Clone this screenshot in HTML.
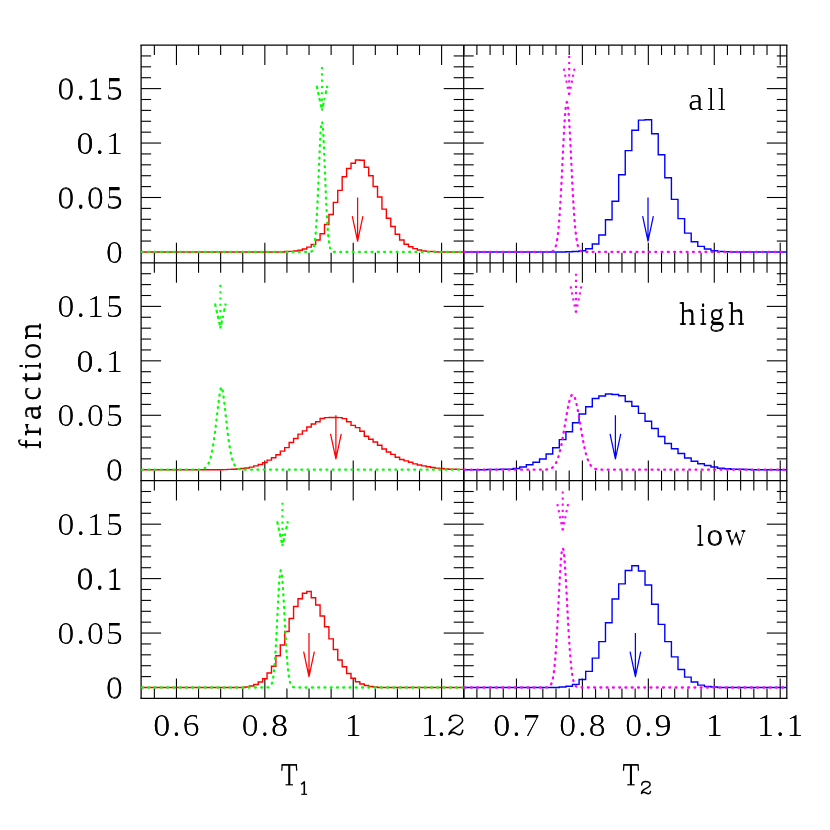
<!DOCTYPE html>
<html><head><meta charset="utf-8"><title>fraction vs T1, T2</title>
<style>
html,body{margin:0;padding:0;background:#fff;}
body{width:830px;height:830px;overflow:hidden;}
svg{display:block;}
text{font-family:"Liberation Serif",serif;fill:#000;}
g.t{opacity:0.999;}
</style></head><body>
<svg width="830" height="830" viewBox="0 0 830 830">
<rect x="0" y="0" width="830" height="830" fill="#fff"/>
<defs>
<clipPath id="c1"><text x="0.444" y="-0.15" font-size="32" text-anchor="end" letter-spacing="1.6">0.15</text><text x="0.444" y="0.15" font-size="32" text-anchor="end" letter-spacing="1.6">0.15</text></clipPath>
<clipPath id="c2"><text x="0.444" y="-0.15" font-size="32" text-anchor="end" letter-spacing="1.6">0.1</text><text x="0.444" y="0.15" font-size="32" text-anchor="end" letter-spacing="1.6">0.1</text></clipPath>
<clipPath id="c3"><text x="0.444" y="-0.15" font-size="32" text-anchor="end" letter-spacing="1.6">0.05</text><text x="0.444" y="0.15" font-size="32" text-anchor="end" letter-spacing="1.6">0.05</text></clipPath>
<clipPath id="c4"><text x="0.444" y="-0.15" font-size="32" text-anchor="end" letter-spacing="1.6">0</text><text x="0.444" y="0.15" font-size="32" text-anchor="end" letter-spacing="1.6">0</text></clipPath>
<clipPath id="c5"><text x="0.444" y="-0.15" font-size="32" text-anchor="end" letter-spacing="1.6">0.15</text><text x="0.444" y="0.15" font-size="32" text-anchor="end" letter-spacing="1.6">0.15</text></clipPath>
<clipPath id="c6"><text x="0.444" y="-0.15" font-size="32" text-anchor="end" letter-spacing="1.6">0.1</text><text x="0.444" y="0.15" font-size="32" text-anchor="end" letter-spacing="1.6">0.1</text></clipPath>
<clipPath id="c7"><text x="0.444" y="-0.15" font-size="32" text-anchor="end" letter-spacing="1.6">0.05</text><text x="0.444" y="0.15" font-size="32" text-anchor="end" letter-spacing="1.6">0.05</text></clipPath>
<clipPath id="c8"><text x="0.444" y="-0.15" font-size="32" text-anchor="end" letter-spacing="1.6">0</text><text x="0.444" y="0.15" font-size="32" text-anchor="end" letter-spacing="1.6">0</text></clipPath>
<clipPath id="c9"><text x="0.444" y="-0.15" font-size="32" text-anchor="end" letter-spacing="1.6">0.15</text><text x="0.444" y="0.15" font-size="32" text-anchor="end" letter-spacing="1.6">0.15</text></clipPath>
<clipPath id="c10"><text x="0.444" y="-0.15" font-size="32" text-anchor="end" letter-spacing="1.6">0.1</text><text x="0.444" y="0.15" font-size="32" text-anchor="end" letter-spacing="1.6">0.1</text></clipPath>
<clipPath id="c11"><text x="0.444" y="-0.15" font-size="32" text-anchor="end" letter-spacing="1.6">0.05</text><text x="0.444" y="0.15" font-size="32" text-anchor="end" letter-spacing="1.6">0.05</text></clipPath>
<clipPath id="c12"><text x="0.444" y="-0.15" font-size="32" text-anchor="end" letter-spacing="1.6">0</text><text x="0.444" y="0.15" font-size="32" text-anchor="end" letter-spacing="1.6">0</text></clipPath>
<clipPath id="c13"><text x="0.444" y="-0.15" font-size="32" text-anchor="middle" letter-spacing="1.6">0.6</text><text x="0.444" y="0.15" font-size="32" text-anchor="middle" letter-spacing="1.6">0.6</text></clipPath>
<clipPath id="c14"><text x="0.444" y="-0.15" font-size="32" text-anchor="middle" letter-spacing="1.6">0.8</text><text x="0.444" y="0.15" font-size="32" text-anchor="middle" letter-spacing="1.6">0.8</text></clipPath>
<clipPath id="c15"><text x="0.444" y="-0.15" font-size="32" text-anchor="middle" letter-spacing="1.6">1</text><text x="0.444" y="0.15" font-size="32" text-anchor="middle" letter-spacing="1.6">1</text></clipPath>
<clipPath id="c16"><text x="0.444" y="-0.15" font-size="32" text-anchor="start" letter-spacing="-0.9">1.</text><text x="0.444" y="0.15" font-size="32" text-anchor="start" letter-spacing="-0.9">1.</text></clipPath>
<clipPath id="c17"><text x="0.444" y="-0.15" font-size="32" text-anchor="middle" letter-spacing="1.6">0.7</text><text x="0.444" y="0.15" font-size="32" text-anchor="middle" letter-spacing="1.6">0.7</text></clipPath>
<clipPath id="c18"><text x="0.444" y="-0.15" font-size="32" text-anchor="middle" letter-spacing="1.6">0.8</text><text x="0.444" y="0.15" font-size="32" text-anchor="middle" letter-spacing="1.6">0.8</text></clipPath>
<clipPath id="c19"><text x="0.444" y="-0.15" font-size="32" text-anchor="middle" letter-spacing="1.6">0.9</text><text x="0.444" y="0.15" font-size="32" text-anchor="middle" letter-spacing="1.6">0.9</text></clipPath>
<clipPath id="c20"><text x="0.444" y="-0.15" font-size="32" text-anchor="middle" letter-spacing="1.6">1</text><text x="0.444" y="0.15" font-size="32" text-anchor="middle" letter-spacing="1.6">1</text></clipPath>
<clipPath id="c21"><text x="0.444" y="-0.15" font-size="32" text-anchor="middle" letter-spacing="1.6">1.1</text><text x="0.444" y="0.15" font-size="32" text-anchor="middle" letter-spacing="1.6">1.1</text></clipPath>
<clipPath id="c22"><text x="0.443" y="-0.15" font-size="32">a</text><text x="0.443" y="0.15" font-size="32">a</text></clipPath>
<clipPath id="c23"><text x="0.505" y="-0.15" font-size="32">l</text><text x="0.505" y="0.15" font-size="32">l</text></clipPath>
<clipPath id="c24"><text x="0.505" y="-0.15" font-size="32">l</text><text x="0.505" y="0.15" font-size="32">l</text></clipPath>
<clipPath id="c25"><text x="0.441" y="-0.15" font-size="32">h</text><text x="0.441" y="0.15" font-size="32">h</text></clipPath>
<clipPath id="c26"><text x="0.549" y="-0.15" font-size="32">i</text><text x="0.549" y="0.15" font-size="32">i</text></clipPath>
<clipPath id="c27"><text x="0.483" y="-0.15" font-size="32">g</text><text x="0.483" y="0.15" font-size="32">g</text></clipPath>
<clipPath id="c28"><text x="0.447" y="-0.15" font-size="32">h</text><text x="0.447" y="0.15" font-size="32">h</text></clipPath>
<clipPath id="c29"><text x="0.519" y="-0.15" font-size="32">l</text><text x="0.519" y="0.15" font-size="32">l</text></clipPath>
<clipPath id="c30"><text x="0.445" y="-0.15" font-size="32">o</text><text x="0.445" y="0.15" font-size="32">o</text></clipPath>
<clipPath id="c31"><text x="0.533" y="-0.15" font-size="32">w</text><text x="0.533" y="0.15" font-size="32">w</text></clipPath>
<clipPath id="c32"><text x="0.482" y="-0.15" font-size="32">f</text><text x="0.482" y="0.15" font-size="32">f</text></clipPath>
<clipPath id="c33"><text x="0.375" y="-0.15" font-size="32">r</text><text x="0.375" y="0.15" font-size="32">r</text></clipPath>
<clipPath id="c34"><text x="0.424" y="-0.15" font-size="32">a</text><text x="0.424" y="0.15" font-size="32">a</text></clipPath>
<clipPath id="c35"><text x="0.462" y="-0.15" font-size="32">c</text><text x="0.462" y="0.15" font-size="32">c</text></clipPath>
<clipPath id="c36"><text x="0.382" y="-0.15" font-size="32">t</text><text x="0.382" y="0.15" font-size="32">t</text></clipPath>
<clipPath id="c37"><text x="0.557" y="-0.15" font-size="32">i</text><text x="0.557" y="0.15" font-size="32">i</text></clipPath>
<clipPath id="c38"><text x="0.454" y="-0.15" font-size="32">o</text><text x="0.454" y="0.15" font-size="32">o</text></clipPath>
<clipPath id="c39"><text x="0.430" y="-0.15" font-size="32">n</text><text x="0.430" y="0.15" font-size="32">n</text></clipPath>
</defs>
<line x1="154.36" y1="45.05" x2="154.36" y2="55.05" stroke="#000" stroke-width="1.1" />
<line x1="154.36" y1="262.83" x2="154.36" y2="252.83" stroke="#000" stroke-width="1.1" />
<line x1="176.45" y1="45.05" x2="176.45" y2="65.05" stroke="#000" stroke-width="1.1" />
<line x1="176.45" y1="262.83" x2="176.45" y2="242.83" stroke="#000" stroke-width="1.1" />
<line x1="198.55" y1="45.05" x2="198.55" y2="55.05" stroke="#000" stroke-width="1.1" />
<line x1="198.55" y1="262.83" x2="198.55" y2="252.83" stroke="#000" stroke-width="1.1" />
<line x1="220.65" y1="45.05" x2="220.65" y2="55.05" stroke="#000" stroke-width="1.1" />
<line x1="220.65" y1="262.83" x2="220.65" y2="252.83" stroke="#000" stroke-width="1.1" />
<line x1="242.74" y1="45.05" x2="242.74" y2="55.05" stroke="#000" stroke-width="1.1" />
<line x1="242.74" y1="262.83" x2="242.74" y2="252.83" stroke="#000" stroke-width="1.1" />
<line x1="264.84" y1="45.05" x2="264.84" y2="65.05" stroke="#000" stroke-width="1.1" />
<line x1="264.84" y1="262.83" x2="264.84" y2="242.83" stroke="#000" stroke-width="1.1" />
<line x1="286.93" y1="45.05" x2="286.93" y2="55.05" stroke="#000" stroke-width="1.1" />
<line x1="286.93" y1="262.83" x2="286.93" y2="252.83" stroke="#000" stroke-width="1.1" />
<line x1="309.03" y1="45.05" x2="309.03" y2="55.05" stroke="#000" stroke-width="1.1" />
<line x1="309.03" y1="262.83" x2="309.03" y2="252.83" stroke="#000" stroke-width="1.1" />
<line x1="331.12" y1="45.05" x2="331.12" y2="55.05" stroke="#000" stroke-width="1.1" />
<line x1="331.12" y1="262.83" x2="331.12" y2="252.83" stroke="#000" stroke-width="1.1" />
<line x1="353.22" y1="45.05" x2="353.22" y2="65.05" stroke="#000" stroke-width="1.1" />
<line x1="353.22" y1="262.83" x2="353.22" y2="242.83" stroke="#000" stroke-width="1.1" />
<line x1="375.32" y1="45.05" x2="375.32" y2="55.05" stroke="#000" stroke-width="1.1" />
<line x1="375.32" y1="262.83" x2="375.32" y2="252.83" stroke="#000" stroke-width="1.1" />
<line x1="397.41" y1="45.05" x2="397.41" y2="55.05" stroke="#000" stroke-width="1.1" />
<line x1="397.41" y1="262.83" x2="397.41" y2="252.83" stroke="#000" stroke-width="1.1" />
<line x1="419.51" y1="45.05" x2="419.51" y2="55.05" stroke="#000" stroke-width="1.1" />
<line x1="419.51" y1="262.83" x2="419.51" y2="252.83" stroke="#000" stroke-width="1.1" />
<line x1="441.60" y1="45.05" x2="441.60" y2="65.05" stroke="#000" stroke-width="1.1" />
<line x1="441.60" y1="262.83" x2="441.60" y2="242.83" stroke="#000" stroke-width="1.1" />
<line x1="463.70" y1="45.05" x2="463.70" y2="55.05" stroke="#000" stroke-width="1.1" />
<line x1="463.70" y1="262.83" x2="463.70" y2="252.83" stroke="#000" stroke-width="1.1" />
<line x1="141.10" y1="241.05" x2="151.10" y2="241.05" stroke="#000" stroke-width="1.1" />
<line x1="463.70" y1="241.05" x2="453.70" y2="241.05" stroke="#000" stroke-width="1.1" />
<line x1="141.10" y1="230.16" x2="151.10" y2="230.16" stroke="#000" stroke-width="1.1" />
<line x1="463.70" y1="230.16" x2="453.70" y2="230.16" stroke="#000" stroke-width="1.1" />
<line x1="141.10" y1="219.27" x2="151.10" y2="219.27" stroke="#000" stroke-width="1.1" />
<line x1="463.70" y1="219.27" x2="453.70" y2="219.27" stroke="#000" stroke-width="1.1" />
<line x1="141.10" y1="208.38" x2="151.10" y2="208.38" stroke="#000" stroke-width="1.1" />
<line x1="463.70" y1="208.38" x2="453.70" y2="208.38" stroke="#000" stroke-width="1.1" />
<line x1="141.10" y1="197.50" x2="161.10" y2="197.50" stroke="#000" stroke-width="1.1" />
<line x1="463.70" y1="197.50" x2="443.70" y2="197.50" stroke="#000" stroke-width="1.1" />
<line x1="141.10" y1="186.61" x2="151.10" y2="186.61" stroke="#000" stroke-width="1.1" />
<line x1="463.70" y1="186.61" x2="453.70" y2="186.61" stroke="#000" stroke-width="1.1" />
<line x1="141.10" y1="175.72" x2="151.10" y2="175.72" stroke="#000" stroke-width="1.1" />
<line x1="463.70" y1="175.72" x2="453.70" y2="175.72" stroke="#000" stroke-width="1.1" />
<line x1="141.10" y1="164.83" x2="151.10" y2="164.83" stroke="#000" stroke-width="1.1" />
<line x1="463.70" y1="164.83" x2="453.70" y2="164.83" stroke="#000" stroke-width="1.1" />
<line x1="141.10" y1="153.94" x2="151.10" y2="153.94" stroke="#000" stroke-width="1.1" />
<line x1="463.70" y1="153.94" x2="453.70" y2="153.94" stroke="#000" stroke-width="1.1" />
<line x1="141.10" y1="143.05" x2="161.10" y2="143.05" stroke="#000" stroke-width="1.1" />
<line x1="463.70" y1="143.05" x2="443.70" y2="143.05" stroke="#000" stroke-width="1.1" />
<line x1="141.10" y1="132.16" x2="151.10" y2="132.16" stroke="#000" stroke-width="1.1" />
<line x1="463.70" y1="132.16" x2="453.70" y2="132.16" stroke="#000" stroke-width="1.1" />
<line x1="141.10" y1="121.27" x2="151.10" y2="121.27" stroke="#000" stroke-width="1.1" />
<line x1="463.70" y1="121.27" x2="453.70" y2="121.27" stroke="#000" stroke-width="1.1" />
<line x1="141.10" y1="110.38" x2="151.10" y2="110.38" stroke="#000" stroke-width="1.1" />
<line x1="463.70" y1="110.38" x2="453.70" y2="110.38" stroke="#000" stroke-width="1.1" />
<line x1="141.10" y1="99.49" x2="151.10" y2="99.49" stroke="#000" stroke-width="1.1" />
<line x1="463.70" y1="99.49" x2="453.70" y2="99.49" stroke="#000" stroke-width="1.1" />
<line x1="141.10" y1="88.61" x2="161.10" y2="88.61" stroke="#000" stroke-width="1.1" />
<line x1="463.70" y1="88.61" x2="443.70" y2="88.61" stroke="#000" stroke-width="1.1" />
<line x1="141.10" y1="77.72" x2="151.10" y2="77.72" stroke="#000" stroke-width="1.1" />
<line x1="463.70" y1="77.72" x2="453.70" y2="77.72" stroke="#000" stroke-width="1.1" />
<line x1="141.10" y1="66.83" x2="151.10" y2="66.83" stroke="#000" stroke-width="1.1" />
<line x1="463.70" y1="66.83" x2="453.70" y2="66.83" stroke="#000" stroke-width="1.1" />
<line x1="141.10" y1="55.94" x2="151.10" y2="55.94" stroke="#000" stroke-width="1.1" />
<line x1="463.70" y1="55.94" x2="453.70" y2="55.94" stroke="#000" stroke-width="1.1" />
<line x1="463.70" y1="45.05" x2="463.70" y2="55.05" stroke="#000" stroke-width="1.1" />
<line x1="463.70" y1="262.83" x2="463.70" y2="252.83" stroke="#000" stroke-width="1.1" />
<line x1="476.89" y1="45.05" x2="476.89" y2="55.05" stroke="#000" stroke-width="1.1" />
<line x1="476.89" y1="262.83" x2="476.89" y2="252.83" stroke="#000" stroke-width="1.1" />
<line x1="490.08" y1="45.05" x2="490.08" y2="55.05" stroke="#000" stroke-width="1.1" />
<line x1="490.08" y1="262.83" x2="490.08" y2="252.83" stroke="#000" stroke-width="1.1" />
<line x1="503.26" y1="45.05" x2="503.26" y2="55.05" stroke="#000" stroke-width="1.1" />
<line x1="503.26" y1="262.83" x2="503.26" y2="252.83" stroke="#000" stroke-width="1.1" />
<line x1="516.45" y1="45.05" x2="516.45" y2="65.05" stroke="#000" stroke-width="1.1" />
<line x1="516.45" y1="262.83" x2="516.45" y2="242.83" stroke="#000" stroke-width="1.1" />
<line x1="529.64" y1="45.05" x2="529.64" y2="55.05" stroke="#000" stroke-width="1.1" />
<line x1="529.64" y1="262.83" x2="529.64" y2="252.83" stroke="#000" stroke-width="1.1" />
<line x1="542.83" y1="45.05" x2="542.83" y2="55.05" stroke="#000" stroke-width="1.1" />
<line x1="542.83" y1="262.83" x2="542.83" y2="252.83" stroke="#000" stroke-width="1.1" />
<line x1="556.01" y1="45.05" x2="556.01" y2="55.05" stroke="#000" stroke-width="1.1" />
<line x1="556.01" y1="262.83" x2="556.01" y2="252.83" stroke="#000" stroke-width="1.1" />
<line x1="569.20" y1="45.05" x2="569.20" y2="55.05" stroke="#000" stroke-width="1.1" />
<line x1="569.20" y1="262.83" x2="569.20" y2="252.83" stroke="#000" stroke-width="1.1" />
<line x1="582.39" y1="45.05" x2="582.39" y2="65.05" stroke="#000" stroke-width="1.1" />
<line x1="582.39" y1="262.83" x2="582.39" y2="242.83" stroke="#000" stroke-width="1.1" />
<line x1="595.58" y1="45.05" x2="595.58" y2="55.05" stroke="#000" stroke-width="1.1" />
<line x1="595.58" y1="262.83" x2="595.58" y2="252.83" stroke="#000" stroke-width="1.1" />
<line x1="608.77" y1="45.05" x2="608.77" y2="55.05" stroke="#000" stroke-width="1.1" />
<line x1="608.77" y1="262.83" x2="608.77" y2="252.83" stroke="#000" stroke-width="1.1" />
<line x1="621.95" y1="45.05" x2="621.95" y2="55.05" stroke="#000" stroke-width="1.1" />
<line x1="621.95" y1="262.83" x2="621.95" y2="252.83" stroke="#000" stroke-width="1.1" />
<line x1="635.14" y1="45.05" x2="635.14" y2="55.05" stroke="#000" stroke-width="1.1" />
<line x1="635.14" y1="262.83" x2="635.14" y2="252.83" stroke="#000" stroke-width="1.1" />
<line x1="648.33" y1="45.05" x2="648.33" y2="65.05" stroke="#000" stroke-width="1.1" />
<line x1="648.33" y1="262.83" x2="648.33" y2="242.83" stroke="#000" stroke-width="1.1" />
<line x1="661.52" y1="45.05" x2="661.52" y2="55.05" stroke="#000" stroke-width="1.1" />
<line x1="661.52" y1="262.83" x2="661.52" y2="252.83" stroke="#000" stroke-width="1.1" />
<line x1="674.70" y1="45.05" x2="674.70" y2="55.05" stroke="#000" stroke-width="1.1" />
<line x1="674.70" y1="262.83" x2="674.70" y2="252.83" stroke="#000" stroke-width="1.1" />
<line x1="687.89" y1="45.05" x2="687.89" y2="55.05" stroke="#000" stroke-width="1.1" />
<line x1="687.89" y1="262.83" x2="687.89" y2="252.83" stroke="#000" stroke-width="1.1" />
<line x1="701.08" y1="45.05" x2="701.08" y2="55.05" stroke="#000" stroke-width="1.1" />
<line x1="701.08" y1="262.83" x2="701.08" y2="252.83" stroke="#000" stroke-width="1.1" />
<line x1="714.27" y1="45.05" x2="714.27" y2="65.05" stroke="#000" stroke-width="1.1" />
<line x1="714.27" y1="262.83" x2="714.27" y2="242.83" stroke="#000" stroke-width="1.1" />
<line x1="727.46" y1="45.05" x2="727.46" y2="55.05" stroke="#000" stroke-width="1.1" />
<line x1="727.46" y1="262.83" x2="727.46" y2="252.83" stroke="#000" stroke-width="1.1" />
<line x1="740.64" y1="45.05" x2="740.64" y2="55.05" stroke="#000" stroke-width="1.1" />
<line x1="740.64" y1="262.83" x2="740.64" y2="252.83" stroke="#000" stroke-width="1.1" />
<line x1="753.83" y1="45.05" x2="753.83" y2="55.05" stroke="#000" stroke-width="1.1" />
<line x1="753.83" y1="262.83" x2="753.83" y2="252.83" stroke="#000" stroke-width="1.1" />
<line x1="767.02" y1="45.05" x2="767.02" y2="55.05" stroke="#000" stroke-width="1.1" />
<line x1="767.02" y1="262.83" x2="767.02" y2="252.83" stroke="#000" stroke-width="1.1" />
<line x1="780.21" y1="45.05" x2="780.21" y2="65.05" stroke="#000" stroke-width="1.1" />
<line x1="780.21" y1="262.83" x2="780.21" y2="242.83" stroke="#000" stroke-width="1.1" />
<line x1="463.70" y1="241.05" x2="473.70" y2="241.05" stroke="#000" stroke-width="1.1" />
<line x1="786.80" y1="241.05" x2="776.80" y2="241.05" stroke="#000" stroke-width="1.1" />
<line x1="463.70" y1="230.16" x2="473.70" y2="230.16" stroke="#000" stroke-width="1.1" />
<line x1="786.80" y1="230.16" x2="776.80" y2="230.16" stroke="#000" stroke-width="1.1" />
<line x1="463.70" y1="219.27" x2="473.70" y2="219.27" stroke="#000" stroke-width="1.1" />
<line x1="786.80" y1="219.27" x2="776.80" y2="219.27" stroke="#000" stroke-width="1.1" />
<line x1="463.70" y1="208.38" x2="473.70" y2="208.38" stroke="#000" stroke-width="1.1" />
<line x1="786.80" y1="208.38" x2="776.80" y2="208.38" stroke="#000" stroke-width="1.1" />
<line x1="463.70" y1="197.50" x2="483.70" y2="197.50" stroke="#000" stroke-width="1.1" />
<line x1="786.80" y1="197.50" x2="766.80" y2="197.50" stroke="#000" stroke-width="1.1" />
<line x1="463.70" y1="186.61" x2="473.70" y2="186.61" stroke="#000" stroke-width="1.1" />
<line x1="786.80" y1="186.61" x2="776.80" y2="186.61" stroke="#000" stroke-width="1.1" />
<line x1="463.70" y1="175.72" x2="473.70" y2="175.72" stroke="#000" stroke-width="1.1" />
<line x1="786.80" y1="175.72" x2="776.80" y2="175.72" stroke="#000" stroke-width="1.1" />
<line x1="463.70" y1="164.83" x2="473.70" y2="164.83" stroke="#000" stroke-width="1.1" />
<line x1="786.80" y1="164.83" x2="776.80" y2="164.83" stroke="#000" stroke-width="1.1" />
<line x1="463.70" y1="153.94" x2="473.70" y2="153.94" stroke="#000" stroke-width="1.1" />
<line x1="786.80" y1="153.94" x2="776.80" y2="153.94" stroke="#000" stroke-width="1.1" />
<line x1="463.70" y1="143.05" x2="483.70" y2="143.05" stroke="#000" stroke-width="1.1" />
<line x1="786.80" y1="143.05" x2="766.80" y2="143.05" stroke="#000" stroke-width="1.1" />
<line x1="463.70" y1="132.16" x2="473.70" y2="132.16" stroke="#000" stroke-width="1.1" />
<line x1="786.80" y1="132.16" x2="776.80" y2="132.16" stroke="#000" stroke-width="1.1" />
<line x1="463.70" y1="121.27" x2="473.70" y2="121.27" stroke="#000" stroke-width="1.1" />
<line x1="786.80" y1="121.27" x2="776.80" y2="121.27" stroke="#000" stroke-width="1.1" />
<line x1="463.70" y1="110.38" x2="473.70" y2="110.38" stroke="#000" stroke-width="1.1" />
<line x1="786.80" y1="110.38" x2="776.80" y2="110.38" stroke="#000" stroke-width="1.1" />
<line x1="463.70" y1="99.49" x2="473.70" y2="99.49" stroke="#000" stroke-width="1.1" />
<line x1="786.80" y1="99.49" x2="776.80" y2="99.49" stroke="#000" stroke-width="1.1" />
<line x1="463.70" y1="88.61" x2="483.70" y2="88.61" stroke="#000" stroke-width="1.1" />
<line x1="786.80" y1="88.61" x2="766.80" y2="88.61" stroke="#000" stroke-width="1.1" />
<line x1="463.70" y1="77.72" x2="473.70" y2="77.72" stroke="#000" stroke-width="1.1" />
<line x1="786.80" y1="77.72" x2="776.80" y2="77.72" stroke="#000" stroke-width="1.1" />
<line x1="463.70" y1="66.83" x2="473.70" y2="66.83" stroke="#000" stroke-width="1.1" />
<line x1="786.80" y1="66.83" x2="776.80" y2="66.83" stroke="#000" stroke-width="1.1" />
<line x1="463.70" y1="55.94" x2="473.70" y2="55.94" stroke="#000" stroke-width="1.1" />
<line x1="786.80" y1="55.94" x2="776.80" y2="55.94" stroke="#000" stroke-width="1.1" />
<line x1="154.36" y1="262.83" x2="154.36" y2="272.83" stroke="#000" stroke-width="1.1" />
<line x1="154.36" y1="480.61" x2="154.36" y2="470.61" stroke="#000" stroke-width="1.1" />
<line x1="176.45" y1="262.83" x2="176.45" y2="282.83" stroke="#000" stroke-width="1.1" />
<line x1="176.45" y1="480.61" x2="176.45" y2="460.61" stroke="#000" stroke-width="1.1" />
<line x1="198.55" y1="262.83" x2="198.55" y2="272.83" stroke="#000" stroke-width="1.1" />
<line x1="198.55" y1="480.61" x2="198.55" y2="470.61" stroke="#000" stroke-width="1.1" />
<line x1="220.65" y1="262.83" x2="220.65" y2="272.83" stroke="#000" stroke-width="1.1" />
<line x1="220.65" y1="480.61" x2="220.65" y2="470.61" stroke="#000" stroke-width="1.1" />
<line x1="242.74" y1="262.83" x2="242.74" y2="272.83" stroke="#000" stroke-width="1.1" />
<line x1="242.74" y1="480.61" x2="242.74" y2="470.61" stroke="#000" stroke-width="1.1" />
<line x1="264.84" y1="262.83" x2="264.84" y2="282.83" stroke="#000" stroke-width="1.1" />
<line x1="264.84" y1="480.61" x2="264.84" y2="460.61" stroke="#000" stroke-width="1.1" />
<line x1="286.93" y1="262.83" x2="286.93" y2="272.83" stroke="#000" stroke-width="1.1" />
<line x1="286.93" y1="480.61" x2="286.93" y2="470.61" stroke="#000" stroke-width="1.1" />
<line x1="309.03" y1="262.83" x2="309.03" y2="272.83" stroke="#000" stroke-width="1.1" />
<line x1="309.03" y1="480.61" x2="309.03" y2="470.61" stroke="#000" stroke-width="1.1" />
<line x1="331.12" y1="262.83" x2="331.12" y2="272.83" stroke="#000" stroke-width="1.1" />
<line x1="331.12" y1="480.61" x2="331.12" y2="470.61" stroke="#000" stroke-width="1.1" />
<line x1="353.22" y1="262.83" x2="353.22" y2="282.83" stroke="#000" stroke-width="1.1" />
<line x1="353.22" y1="480.61" x2="353.22" y2="460.61" stroke="#000" stroke-width="1.1" />
<line x1="375.32" y1="262.83" x2="375.32" y2="272.83" stroke="#000" stroke-width="1.1" />
<line x1="375.32" y1="480.61" x2="375.32" y2="470.61" stroke="#000" stroke-width="1.1" />
<line x1="397.41" y1="262.83" x2="397.41" y2="272.83" stroke="#000" stroke-width="1.1" />
<line x1="397.41" y1="480.61" x2="397.41" y2="470.61" stroke="#000" stroke-width="1.1" />
<line x1="419.51" y1="262.83" x2="419.51" y2="272.83" stroke="#000" stroke-width="1.1" />
<line x1="419.51" y1="480.61" x2="419.51" y2="470.61" stroke="#000" stroke-width="1.1" />
<line x1="441.60" y1="262.83" x2="441.60" y2="282.83" stroke="#000" stroke-width="1.1" />
<line x1="441.60" y1="480.61" x2="441.60" y2="460.61" stroke="#000" stroke-width="1.1" />
<line x1="463.70" y1="262.83" x2="463.70" y2="272.83" stroke="#000" stroke-width="1.1" />
<line x1="463.70" y1="480.61" x2="463.70" y2="470.61" stroke="#000" stroke-width="1.1" />
<line x1="141.10" y1="458.83" x2="151.10" y2="458.83" stroke="#000" stroke-width="1.1" />
<line x1="463.70" y1="458.83" x2="453.70" y2="458.83" stroke="#000" stroke-width="1.1" />
<line x1="141.10" y1="447.94" x2="151.10" y2="447.94" stroke="#000" stroke-width="1.1" />
<line x1="463.70" y1="447.94" x2="453.70" y2="447.94" stroke="#000" stroke-width="1.1" />
<line x1="141.10" y1="437.05" x2="151.10" y2="437.05" stroke="#000" stroke-width="1.1" />
<line x1="463.70" y1="437.05" x2="453.70" y2="437.05" stroke="#000" stroke-width="1.1" />
<line x1="141.10" y1="426.16" x2="151.10" y2="426.16" stroke="#000" stroke-width="1.1" />
<line x1="463.70" y1="426.16" x2="453.70" y2="426.16" stroke="#000" stroke-width="1.1" />
<line x1="141.10" y1="415.28" x2="161.10" y2="415.28" stroke="#000" stroke-width="1.1" />
<line x1="463.70" y1="415.28" x2="443.70" y2="415.28" stroke="#000" stroke-width="1.1" />
<line x1="141.10" y1="404.39" x2="151.10" y2="404.39" stroke="#000" stroke-width="1.1" />
<line x1="463.70" y1="404.39" x2="453.70" y2="404.39" stroke="#000" stroke-width="1.1" />
<line x1="141.10" y1="393.50" x2="151.10" y2="393.50" stroke="#000" stroke-width="1.1" />
<line x1="463.70" y1="393.50" x2="453.70" y2="393.50" stroke="#000" stroke-width="1.1" />
<line x1="141.10" y1="382.61" x2="151.10" y2="382.61" stroke="#000" stroke-width="1.1" />
<line x1="463.70" y1="382.61" x2="453.70" y2="382.61" stroke="#000" stroke-width="1.1" />
<line x1="141.10" y1="371.72" x2="151.10" y2="371.72" stroke="#000" stroke-width="1.1" />
<line x1="463.70" y1="371.72" x2="453.70" y2="371.72" stroke="#000" stroke-width="1.1" />
<line x1="141.10" y1="360.83" x2="161.10" y2="360.83" stroke="#000" stroke-width="1.1" />
<line x1="463.70" y1="360.83" x2="443.70" y2="360.83" stroke="#000" stroke-width="1.1" />
<line x1="141.10" y1="349.94" x2="151.10" y2="349.94" stroke="#000" stroke-width="1.1" />
<line x1="463.70" y1="349.94" x2="453.70" y2="349.94" stroke="#000" stroke-width="1.1" />
<line x1="141.10" y1="339.05" x2="151.10" y2="339.05" stroke="#000" stroke-width="1.1" />
<line x1="463.70" y1="339.05" x2="453.70" y2="339.05" stroke="#000" stroke-width="1.1" />
<line x1="141.10" y1="328.16" x2="151.10" y2="328.16" stroke="#000" stroke-width="1.1" />
<line x1="463.70" y1="328.16" x2="453.70" y2="328.16" stroke="#000" stroke-width="1.1" />
<line x1="141.10" y1="317.27" x2="151.10" y2="317.27" stroke="#000" stroke-width="1.1" />
<line x1="463.70" y1="317.27" x2="453.70" y2="317.27" stroke="#000" stroke-width="1.1" />
<line x1="141.10" y1="306.39" x2="161.10" y2="306.39" stroke="#000" stroke-width="1.1" />
<line x1="463.70" y1="306.39" x2="443.70" y2="306.39" stroke="#000" stroke-width="1.1" />
<line x1="141.10" y1="295.50" x2="151.10" y2="295.50" stroke="#000" stroke-width="1.1" />
<line x1="463.70" y1="295.50" x2="453.70" y2="295.50" stroke="#000" stroke-width="1.1" />
<line x1="141.10" y1="284.61" x2="151.10" y2="284.61" stroke="#000" stroke-width="1.1" />
<line x1="463.70" y1="284.61" x2="453.70" y2="284.61" stroke="#000" stroke-width="1.1" />
<line x1="141.10" y1="273.72" x2="151.10" y2="273.72" stroke="#000" stroke-width="1.1" />
<line x1="463.70" y1="273.72" x2="453.70" y2="273.72" stroke="#000" stroke-width="1.1" />
<line x1="463.70" y1="262.83" x2="463.70" y2="272.83" stroke="#000" stroke-width="1.1" />
<line x1="463.70" y1="480.61" x2="463.70" y2="470.61" stroke="#000" stroke-width="1.1" />
<line x1="476.89" y1="262.83" x2="476.89" y2="272.83" stroke="#000" stroke-width="1.1" />
<line x1="476.89" y1="480.61" x2="476.89" y2="470.61" stroke="#000" stroke-width="1.1" />
<line x1="490.08" y1="262.83" x2="490.08" y2="272.83" stroke="#000" stroke-width="1.1" />
<line x1="490.08" y1="480.61" x2="490.08" y2="470.61" stroke="#000" stroke-width="1.1" />
<line x1="503.26" y1="262.83" x2="503.26" y2="272.83" stroke="#000" stroke-width="1.1" />
<line x1="503.26" y1="480.61" x2="503.26" y2="470.61" stroke="#000" stroke-width="1.1" />
<line x1="516.45" y1="262.83" x2="516.45" y2="282.83" stroke="#000" stroke-width="1.1" />
<line x1="516.45" y1="480.61" x2="516.45" y2="460.61" stroke="#000" stroke-width="1.1" />
<line x1="529.64" y1="262.83" x2="529.64" y2="272.83" stroke="#000" stroke-width="1.1" />
<line x1="529.64" y1="480.61" x2="529.64" y2="470.61" stroke="#000" stroke-width="1.1" />
<line x1="542.83" y1="262.83" x2="542.83" y2="272.83" stroke="#000" stroke-width="1.1" />
<line x1="542.83" y1="480.61" x2="542.83" y2="470.61" stroke="#000" stroke-width="1.1" />
<line x1="556.01" y1="262.83" x2="556.01" y2="272.83" stroke="#000" stroke-width="1.1" />
<line x1="556.01" y1="480.61" x2="556.01" y2="470.61" stroke="#000" stroke-width="1.1" />
<line x1="569.20" y1="262.83" x2="569.20" y2="272.83" stroke="#000" stroke-width="1.1" />
<line x1="569.20" y1="480.61" x2="569.20" y2="470.61" stroke="#000" stroke-width="1.1" />
<line x1="582.39" y1="262.83" x2="582.39" y2="282.83" stroke="#000" stroke-width="1.1" />
<line x1="582.39" y1="480.61" x2="582.39" y2="460.61" stroke="#000" stroke-width="1.1" />
<line x1="595.58" y1="262.83" x2="595.58" y2="272.83" stroke="#000" stroke-width="1.1" />
<line x1="595.58" y1="480.61" x2="595.58" y2="470.61" stroke="#000" stroke-width="1.1" />
<line x1="608.77" y1="262.83" x2="608.77" y2="272.83" stroke="#000" stroke-width="1.1" />
<line x1="608.77" y1="480.61" x2="608.77" y2="470.61" stroke="#000" stroke-width="1.1" />
<line x1="621.95" y1="262.83" x2="621.95" y2="272.83" stroke="#000" stroke-width="1.1" />
<line x1="621.95" y1="480.61" x2="621.95" y2="470.61" stroke="#000" stroke-width="1.1" />
<line x1="635.14" y1="262.83" x2="635.14" y2="272.83" stroke="#000" stroke-width="1.1" />
<line x1="635.14" y1="480.61" x2="635.14" y2="470.61" stroke="#000" stroke-width="1.1" />
<line x1="648.33" y1="262.83" x2="648.33" y2="282.83" stroke="#000" stroke-width="1.1" />
<line x1="648.33" y1="480.61" x2="648.33" y2="460.61" stroke="#000" stroke-width="1.1" />
<line x1="661.52" y1="262.83" x2="661.52" y2="272.83" stroke="#000" stroke-width="1.1" />
<line x1="661.52" y1="480.61" x2="661.52" y2="470.61" stroke="#000" stroke-width="1.1" />
<line x1="674.70" y1="262.83" x2="674.70" y2="272.83" stroke="#000" stroke-width="1.1" />
<line x1="674.70" y1="480.61" x2="674.70" y2="470.61" stroke="#000" stroke-width="1.1" />
<line x1="687.89" y1="262.83" x2="687.89" y2="272.83" stroke="#000" stroke-width="1.1" />
<line x1="687.89" y1="480.61" x2="687.89" y2="470.61" stroke="#000" stroke-width="1.1" />
<line x1="701.08" y1="262.83" x2="701.08" y2="272.83" stroke="#000" stroke-width="1.1" />
<line x1="701.08" y1="480.61" x2="701.08" y2="470.61" stroke="#000" stroke-width="1.1" />
<line x1="714.27" y1="262.83" x2="714.27" y2="282.83" stroke="#000" stroke-width="1.1" />
<line x1="714.27" y1="480.61" x2="714.27" y2="460.61" stroke="#000" stroke-width="1.1" />
<line x1="727.46" y1="262.83" x2="727.46" y2="272.83" stroke="#000" stroke-width="1.1" />
<line x1="727.46" y1="480.61" x2="727.46" y2="470.61" stroke="#000" stroke-width="1.1" />
<line x1="740.64" y1="262.83" x2="740.64" y2="272.83" stroke="#000" stroke-width="1.1" />
<line x1="740.64" y1="480.61" x2="740.64" y2="470.61" stroke="#000" stroke-width="1.1" />
<line x1="753.83" y1="262.83" x2="753.83" y2="272.83" stroke="#000" stroke-width="1.1" />
<line x1="753.83" y1="480.61" x2="753.83" y2="470.61" stroke="#000" stroke-width="1.1" />
<line x1="767.02" y1="262.83" x2="767.02" y2="272.83" stroke="#000" stroke-width="1.1" />
<line x1="767.02" y1="480.61" x2="767.02" y2="470.61" stroke="#000" stroke-width="1.1" />
<line x1="780.21" y1="262.83" x2="780.21" y2="282.83" stroke="#000" stroke-width="1.1" />
<line x1="780.21" y1="480.61" x2="780.21" y2="460.61" stroke="#000" stroke-width="1.1" />
<line x1="463.70" y1="458.83" x2="473.70" y2="458.83" stroke="#000" stroke-width="1.1" />
<line x1="786.80" y1="458.83" x2="776.80" y2="458.83" stroke="#000" stroke-width="1.1" />
<line x1="463.70" y1="447.94" x2="473.70" y2="447.94" stroke="#000" stroke-width="1.1" />
<line x1="786.80" y1="447.94" x2="776.80" y2="447.94" stroke="#000" stroke-width="1.1" />
<line x1="463.70" y1="437.05" x2="473.70" y2="437.05" stroke="#000" stroke-width="1.1" />
<line x1="786.80" y1="437.05" x2="776.80" y2="437.05" stroke="#000" stroke-width="1.1" />
<line x1="463.70" y1="426.16" x2="473.70" y2="426.16" stroke="#000" stroke-width="1.1" />
<line x1="786.80" y1="426.16" x2="776.80" y2="426.16" stroke="#000" stroke-width="1.1" />
<line x1="463.70" y1="415.28" x2="483.70" y2="415.28" stroke="#000" stroke-width="1.1" />
<line x1="786.80" y1="415.28" x2="766.80" y2="415.28" stroke="#000" stroke-width="1.1" />
<line x1="463.70" y1="404.39" x2="473.70" y2="404.39" stroke="#000" stroke-width="1.1" />
<line x1="786.80" y1="404.39" x2="776.80" y2="404.39" stroke="#000" stroke-width="1.1" />
<line x1="463.70" y1="393.50" x2="473.70" y2="393.50" stroke="#000" stroke-width="1.1" />
<line x1="786.80" y1="393.50" x2="776.80" y2="393.50" stroke="#000" stroke-width="1.1" />
<line x1="463.70" y1="382.61" x2="473.70" y2="382.61" stroke="#000" stroke-width="1.1" />
<line x1="786.80" y1="382.61" x2="776.80" y2="382.61" stroke="#000" stroke-width="1.1" />
<line x1="463.70" y1="371.72" x2="473.70" y2="371.72" stroke="#000" stroke-width="1.1" />
<line x1="786.80" y1="371.72" x2="776.80" y2="371.72" stroke="#000" stroke-width="1.1" />
<line x1="463.70" y1="360.83" x2="483.70" y2="360.83" stroke="#000" stroke-width="1.1" />
<line x1="786.80" y1="360.83" x2="766.80" y2="360.83" stroke="#000" stroke-width="1.1" />
<line x1="463.70" y1="349.94" x2="473.70" y2="349.94" stroke="#000" stroke-width="1.1" />
<line x1="786.80" y1="349.94" x2="776.80" y2="349.94" stroke="#000" stroke-width="1.1" />
<line x1="463.70" y1="339.05" x2="473.70" y2="339.05" stroke="#000" stroke-width="1.1" />
<line x1="786.80" y1="339.05" x2="776.80" y2="339.05" stroke="#000" stroke-width="1.1" />
<line x1="463.70" y1="328.16" x2="473.70" y2="328.16" stroke="#000" stroke-width="1.1" />
<line x1="786.80" y1="328.16" x2="776.80" y2="328.16" stroke="#000" stroke-width="1.1" />
<line x1="463.70" y1="317.27" x2="473.70" y2="317.27" stroke="#000" stroke-width="1.1" />
<line x1="786.80" y1="317.27" x2="776.80" y2="317.27" stroke="#000" stroke-width="1.1" />
<line x1="463.70" y1="306.39" x2="483.70" y2="306.39" stroke="#000" stroke-width="1.1" />
<line x1="786.80" y1="306.39" x2="766.80" y2="306.39" stroke="#000" stroke-width="1.1" />
<line x1="463.70" y1="295.50" x2="473.70" y2="295.50" stroke="#000" stroke-width="1.1" />
<line x1="786.80" y1="295.50" x2="776.80" y2="295.50" stroke="#000" stroke-width="1.1" />
<line x1="463.70" y1="284.61" x2="473.70" y2="284.61" stroke="#000" stroke-width="1.1" />
<line x1="786.80" y1="284.61" x2="776.80" y2="284.61" stroke="#000" stroke-width="1.1" />
<line x1="463.70" y1="273.72" x2="473.70" y2="273.72" stroke="#000" stroke-width="1.1" />
<line x1="786.80" y1="273.72" x2="776.80" y2="273.72" stroke="#000" stroke-width="1.1" />
<line x1="154.36" y1="480.61" x2="154.36" y2="490.61" stroke="#000" stroke-width="1.1" />
<line x1="154.36" y1="698.39" x2="154.36" y2="688.39" stroke="#000" stroke-width="1.1" />
<line x1="176.45" y1="480.61" x2="176.45" y2="500.61" stroke="#000" stroke-width="1.1" />
<line x1="176.45" y1="698.39" x2="176.45" y2="678.39" stroke="#000" stroke-width="1.1" />
<line x1="198.55" y1="480.61" x2="198.55" y2="490.61" stroke="#000" stroke-width="1.1" />
<line x1="198.55" y1="698.39" x2="198.55" y2="688.39" stroke="#000" stroke-width="1.1" />
<line x1="220.65" y1="480.61" x2="220.65" y2="490.61" stroke="#000" stroke-width="1.1" />
<line x1="220.65" y1="698.39" x2="220.65" y2="688.39" stroke="#000" stroke-width="1.1" />
<line x1="242.74" y1="480.61" x2="242.74" y2="490.61" stroke="#000" stroke-width="1.1" />
<line x1="242.74" y1="698.39" x2="242.74" y2="688.39" stroke="#000" stroke-width="1.1" />
<line x1="264.84" y1="480.61" x2="264.84" y2="500.61" stroke="#000" stroke-width="1.1" />
<line x1="264.84" y1="698.39" x2="264.84" y2="678.39" stroke="#000" stroke-width="1.1" />
<line x1="286.93" y1="480.61" x2="286.93" y2="490.61" stroke="#000" stroke-width="1.1" />
<line x1="286.93" y1="698.39" x2="286.93" y2="688.39" stroke="#000" stroke-width="1.1" />
<line x1="309.03" y1="480.61" x2="309.03" y2="490.61" stroke="#000" stroke-width="1.1" />
<line x1="309.03" y1="698.39" x2="309.03" y2="688.39" stroke="#000" stroke-width="1.1" />
<line x1="331.12" y1="480.61" x2="331.12" y2="490.61" stroke="#000" stroke-width="1.1" />
<line x1="331.12" y1="698.39" x2="331.12" y2="688.39" stroke="#000" stroke-width="1.1" />
<line x1="353.22" y1="480.61" x2="353.22" y2="500.61" stroke="#000" stroke-width="1.1" />
<line x1="353.22" y1="698.39" x2="353.22" y2="678.39" stroke="#000" stroke-width="1.1" />
<line x1="375.32" y1="480.61" x2="375.32" y2="490.61" stroke="#000" stroke-width="1.1" />
<line x1="375.32" y1="698.39" x2="375.32" y2="688.39" stroke="#000" stroke-width="1.1" />
<line x1="397.41" y1="480.61" x2="397.41" y2="490.61" stroke="#000" stroke-width="1.1" />
<line x1="397.41" y1="698.39" x2="397.41" y2="688.39" stroke="#000" stroke-width="1.1" />
<line x1="419.51" y1="480.61" x2="419.51" y2="490.61" stroke="#000" stroke-width="1.1" />
<line x1="419.51" y1="698.39" x2="419.51" y2="688.39" stroke="#000" stroke-width="1.1" />
<line x1="441.60" y1="480.61" x2="441.60" y2="500.61" stroke="#000" stroke-width="1.1" />
<line x1="441.60" y1="698.39" x2="441.60" y2="678.39" stroke="#000" stroke-width="1.1" />
<line x1="463.70" y1="480.61" x2="463.70" y2="490.61" stroke="#000" stroke-width="1.1" />
<line x1="463.70" y1="698.39" x2="463.70" y2="688.39" stroke="#000" stroke-width="1.1" />
<line x1="141.10" y1="676.61" x2="151.10" y2="676.61" stroke="#000" stroke-width="1.1" />
<line x1="463.70" y1="676.61" x2="453.70" y2="676.61" stroke="#000" stroke-width="1.1" />
<line x1="141.10" y1="665.72" x2="151.10" y2="665.72" stroke="#000" stroke-width="1.1" />
<line x1="463.70" y1="665.72" x2="453.70" y2="665.72" stroke="#000" stroke-width="1.1" />
<line x1="141.10" y1="654.83" x2="151.10" y2="654.83" stroke="#000" stroke-width="1.1" />
<line x1="463.70" y1="654.83" x2="453.70" y2="654.83" stroke="#000" stroke-width="1.1" />
<line x1="141.10" y1="643.94" x2="151.10" y2="643.94" stroke="#000" stroke-width="1.1" />
<line x1="463.70" y1="643.94" x2="453.70" y2="643.94" stroke="#000" stroke-width="1.1" />
<line x1="141.10" y1="633.06" x2="161.10" y2="633.06" stroke="#000" stroke-width="1.1" />
<line x1="463.70" y1="633.06" x2="443.70" y2="633.06" stroke="#000" stroke-width="1.1" />
<line x1="141.10" y1="622.17" x2="151.10" y2="622.17" stroke="#000" stroke-width="1.1" />
<line x1="463.70" y1="622.17" x2="453.70" y2="622.17" stroke="#000" stroke-width="1.1" />
<line x1="141.10" y1="611.28" x2="151.10" y2="611.28" stroke="#000" stroke-width="1.1" />
<line x1="463.70" y1="611.28" x2="453.70" y2="611.28" stroke="#000" stroke-width="1.1" />
<line x1="141.10" y1="600.39" x2="151.10" y2="600.39" stroke="#000" stroke-width="1.1" />
<line x1="463.70" y1="600.39" x2="453.70" y2="600.39" stroke="#000" stroke-width="1.1" />
<line x1="141.10" y1="589.50" x2="151.10" y2="589.50" stroke="#000" stroke-width="1.1" />
<line x1="463.70" y1="589.50" x2="453.70" y2="589.50" stroke="#000" stroke-width="1.1" />
<line x1="141.10" y1="578.61" x2="161.10" y2="578.61" stroke="#000" stroke-width="1.1" />
<line x1="463.70" y1="578.61" x2="443.70" y2="578.61" stroke="#000" stroke-width="1.1" />
<line x1="141.10" y1="567.72" x2="151.10" y2="567.72" stroke="#000" stroke-width="1.1" />
<line x1="463.70" y1="567.72" x2="453.70" y2="567.72" stroke="#000" stroke-width="1.1" />
<line x1="141.10" y1="556.83" x2="151.10" y2="556.83" stroke="#000" stroke-width="1.1" />
<line x1="463.70" y1="556.83" x2="453.70" y2="556.83" stroke="#000" stroke-width="1.1" />
<line x1="141.10" y1="545.94" x2="151.10" y2="545.94" stroke="#000" stroke-width="1.1" />
<line x1="463.70" y1="545.94" x2="453.70" y2="545.94" stroke="#000" stroke-width="1.1" />
<line x1="141.10" y1="535.05" x2="151.10" y2="535.05" stroke="#000" stroke-width="1.1" />
<line x1="463.70" y1="535.05" x2="453.70" y2="535.05" stroke="#000" stroke-width="1.1" />
<line x1="141.10" y1="524.17" x2="161.10" y2="524.17" stroke="#000" stroke-width="1.1" />
<line x1="463.70" y1="524.17" x2="443.70" y2="524.17" stroke="#000" stroke-width="1.1" />
<line x1="141.10" y1="513.28" x2="151.10" y2="513.28" stroke="#000" stroke-width="1.1" />
<line x1="463.70" y1="513.28" x2="453.70" y2="513.28" stroke="#000" stroke-width="1.1" />
<line x1="141.10" y1="502.39" x2="151.10" y2="502.39" stroke="#000" stroke-width="1.1" />
<line x1="463.70" y1="502.39" x2="453.70" y2="502.39" stroke="#000" stroke-width="1.1" />
<line x1="141.10" y1="491.50" x2="151.10" y2="491.50" stroke="#000" stroke-width="1.1" />
<line x1="463.70" y1="491.50" x2="453.70" y2="491.50" stroke="#000" stroke-width="1.1" />
<line x1="463.70" y1="480.61" x2="463.70" y2="490.61" stroke="#000" stroke-width="1.1" />
<line x1="463.70" y1="698.39" x2="463.70" y2="688.39" stroke="#000" stroke-width="1.1" />
<line x1="476.89" y1="480.61" x2="476.89" y2="490.61" stroke="#000" stroke-width="1.1" />
<line x1="476.89" y1="698.39" x2="476.89" y2="688.39" stroke="#000" stroke-width="1.1" />
<line x1="490.08" y1="480.61" x2="490.08" y2="490.61" stroke="#000" stroke-width="1.1" />
<line x1="490.08" y1="698.39" x2="490.08" y2="688.39" stroke="#000" stroke-width="1.1" />
<line x1="503.26" y1="480.61" x2="503.26" y2="490.61" stroke="#000" stroke-width="1.1" />
<line x1="503.26" y1="698.39" x2="503.26" y2="688.39" stroke="#000" stroke-width="1.1" />
<line x1="516.45" y1="480.61" x2="516.45" y2="500.61" stroke="#000" stroke-width="1.1" />
<line x1="516.45" y1="698.39" x2="516.45" y2="678.39" stroke="#000" stroke-width="1.1" />
<line x1="529.64" y1="480.61" x2="529.64" y2="490.61" stroke="#000" stroke-width="1.1" />
<line x1="529.64" y1="698.39" x2="529.64" y2="688.39" stroke="#000" stroke-width="1.1" />
<line x1="542.83" y1="480.61" x2="542.83" y2="490.61" stroke="#000" stroke-width="1.1" />
<line x1="542.83" y1="698.39" x2="542.83" y2="688.39" stroke="#000" stroke-width="1.1" />
<line x1="556.01" y1="480.61" x2="556.01" y2="490.61" stroke="#000" stroke-width="1.1" />
<line x1="556.01" y1="698.39" x2="556.01" y2="688.39" stroke="#000" stroke-width="1.1" />
<line x1="569.20" y1="480.61" x2="569.20" y2="490.61" stroke="#000" stroke-width="1.1" />
<line x1="569.20" y1="698.39" x2="569.20" y2="688.39" stroke="#000" stroke-width="1.1" />
<line x1="582.39" y1="480.61" x2="582.39" y2="500.61" stroke="#000" stroke-width="1.1" />
<line x1="582.39" y1="698.39" x2="582.39" y2="678.39" stroke="#000" stroke-width="1.1" />
<line x1="595.58" y1="480.61" x2="595.58" y2="490.61" stroke="#000" stroke-width="1.1" />
<line x1="595.58" y1="698.39" x2="595.58" y2="688.39" stroke="#000" stroke-width="1.1" />
<line x1="608.77" y1="480.61" x2="608.77" y2="490.61" stroke="#000" stroke-width="1.1" />
<line x1="608.77" y1="698.39" x2="608.77" y2="688.39" stroke="#000" stroke-width="1.1" />
<line x1="621.95" y1="480.61" x2="621.95" y2="490.61" stroke="#000" stroke-width="1.1" />
<line x1="621.95" y1="698.39" x2="621.95" y2="688.39" stroke="#000" stroke-width="1.1" />
<line x1="635.14" y1="480.61" x2="635.14" y2="490.61" stroke="#000" stroke-width="1.1" />
<line x1="635.14" y1="698.39" x2="635.14" y2="688.39" stroke="#000" stroke-width="1.1" />
<line x1="648.33" y1="480.61" x2="648.33" y2="500.61" stroke="#000" stroke-width="1.1" />
<line x1="648.33" y1="698.39" x2="648.33" y2="678.39" stroke="#000" stroke-width="1.1" />
<line x1="661.52" y1="480.61" x2="661.52" y2="490.61" stroke="#000" stroke-width="1.1" />
<line x1="661.52" y1="698.39" x2="661.52" y2="688.39" stroke="#000" stroke-width="1.1" />
<line x1="674.70" y1="480.61" x2="674.70" y2="490.61" stroke="#000" stroke-width="1.1" />
<line x1="674.70" y1="698.39" x2="674.70" y2="688.39" stroke="#000" stroke-width="1.1" />
<line x1="687.89" y1="480.61" x2="687.89" y2="490.61" stroke="#000" stroke-width="1.1" />
<line x1="687.89" y1="698.39" x2="687.89" y2="688.39" stroke="#000" stroke-width="1.1" />
<line x1="701.08" y1="480.61" x2="701.08" y2="490.61" stroke="#000" stroke-width="1.1" />
<line x1="701.08" y1="698.39" x2="701.08" y2="688.39" stroke="#000" stroke-width="1.1" />
<line x1="714.27" y1="480.61" x2="714.27" y2="500.61" stroke="#000" stroke-width="1.1" />
<line x1="714.27" y1="698.39" x2="714.27" y2="678.39" stroke="#000" stroke-width="1.1" />
<line x1="727.46" y1="480.61" x2="727.46" y2="490.61" stroke="#000" stroke-width="1.1" />
<line x1="727.46" y1="698.39" x2="727.46" y2="688.39" stroke="#000" stroke-width="1.1" />
<line x1="740.64" y1="480.61" x2="740.64" y2="490.61" stroke="#000" stroke-width="1.1" />
<line x1="740.64" y1="698.39" x2="740.64" y2="688.39" stroke="#000" stroke-width="1.1" />
<line x1="753.83" y1="480.61" x2="753.83" y2="490.61" stroke="#000" stroke-width="1.1" />
<line x1="753.83" y1="698.39" x2="753.83" y2="688.39" stroke="#000" stroke-width="1.1" />
<line x1="767.02" y1="480.61" x2="767.02" y2="490.61" stroke="#000" stroke-width="1.1" />
<line x1="767.02" y1="698.39" x2="767.02" y2="688.39" stroke="#000" stroke-width="1.1" />
<line x1="780.21" y1="480.61" x2="780.21" y2="500.61" stroke="#000" stroke-width="1.1" />
<line x1="780.21" y1="698.39" x2="780.21" y2="678.39" stroke="#000" stroke-width="1.1" />
<line x1="463.70" y1="676.61" x2="473.70" y2="676.61" stroke="#000" stroke-width="1.1" />
<line x1="786.80" y1="676.61" x2="776.80" y2="676.61" stroke="#000" stroke-width="1.1" />
<line x1="463.70" y1="665.72" x2="473.70" y2="665.72" stroke="#000" stroke-width="1.1" />
<line x1="786.80" y1="665.72" x2="776.80" y2="665.72" stroke="#000" stroke-width="1.1" />
<line x1="463.70" y1="654.83" x2="473.70" y2="654.83" stroke="#000" stroke-width="1.1" />
<line x1="786.80" y1="654.83" x2="776.80" y2="654.83" stroke="#000" stroke-width="1.1" />
<line x1="463.70" y1="643.94" x2="473.70" y2="643.94" stroke="#000" stroke-width="1.1" />
<line x1="786.80" y1="643.94" x2="776.80" y2="643.94" stroke="#000" stroke-width="1.1" />
<line x1="463.70" y1="633.06" x2="483.70" y2="633.06" stroke="#000" stroke-width="1.1" />
<line x1="786.80" y1="633.06" x2="766.80" y2="633.06" stroke="#000" stroke-width="1.1" />
<line x1="463.70" y1="622.17" x2="473.70" y2="622.17" stroke="#000" stroke-width="1.1" />
<line x1="786.80" y1="622.17" x2="776.80" y2="622.17" stroke="#000" stroke-width="1.1" />
<line x1="463.70" y1="611.28" x2="473.70" y2="611.28" stroke="#000" stroke-width="1.1" />
<line x1="786.80" y1="611.28" x2="776.80" y2="611.28" stroke="#000" stroke-width="1.1" />
<line x1="463.70" y1="600.39" x2="473.70" y2="600.39" stroke="#000" stroke-width="1.1" />
<line x1="786.80" y1="600.39" x2="776.80" y2="600.39" stroke="#000" stroke-width="1.1" />
<line x1="463.70" y1="589.50" x2="473.70" y2="589.50" stroke="#000" stroke-width="1.1" />
<line x1="786.80" y1="589.50" x2="776.80" y2="589.50" stroke="#000" stroke-width="1.1" />
<line x1="463.70" y1="578.61" x2="483.70" y2="578.61" stroke="#000" stroke-width="1.1" />
<line x1="786.80" y1="578.61" x2="766.80" y2="578.61" stroke="#000" stroke-width="1.1" />
<line x1="463.70" y1="567.72" x2="473.70" y2="567.72" stroke="#000" stroke-width="1.1" />
<line x1="786.80" y1="567.72" x2="776.80" y2="567.72" stroke="#000" stroke-width="1.1" />
<line x1="463.70" y1="556.83" x2="473.70" y2="556.83" stroke="#000" stroke-width="1.1" />
<line x1="786.80" y1="556.83" x2="776.80" y2="556.83" stroke="#000" stroke-width="1.1" />
<line x1="463.70" y1="545.94" x2="473.70" y2="545.94" stroke="#000" stroke-width="1.1" />
<line x1="786.80" y1="545.94" x2="776.80" y2="545.94" stroke="#000" stroke-width="1.1" />
<line x1="463.70" y1="535.05" x2="473.70" y2="535.05" stroke="#000" stroke-width="1.1" />
<line x1="786.80" y1="535.05" x2="776.80" y2="535.05" stroke="#000" stroke-width="1.1" />
<line x1="463.70" y1="524.17" x2="483.70" y2="524.17" stroke="#000" stroke-width="1.1" />
<line x1="786.80" y1="524.17" x2="766.80" y2="524.17" stroke="#000" stroke-width="1.1" />
<line x1="463.70" y1="513.28" x2="473.70" y2="513.28" stroke="#000" stroke-width="1.1" />
<line x1="786.80" y1="513.28" x2="776.80" y2="513.28" stroke="#000" stroke-width="1.1" />
<line x1="463.70" y1="502.39" x2="473.70" y2="502.39" stroke="#000" stroke-width="1.1" />
<line x1="786.80" y1="502.39" x2="776.80" y2="502.39" stroke="#000" stroke-width="1.1" />
<line x1="463.70" y1="491.50" x2="473.70" y2="491.50" stroke="#000" stroke-width="1.1" />
<line x1="786.80" y1="491.50" x2="776.80" y2="491.50" stroke="#000" stroke-width="1.1" />
<line x1="140.47" y1="45.05" x2="787.42" y2="45.05" stroke="#000" stroke-width="1.25" />
<line x1="140.47" y1="262.83" x2="787.42" y2="262.83" stroke="#000" stroke-width="1.25" />
<line x1="140.47" y1="480.61" x2="787.42" y2="480.61" stroke="#000" stroke-width="1.25" />
<line x1="140.47" y1="698.39" x2="787.42" y2="698.39" stroke="#000" stroke-width="1.25" />
<line x1="141.10" y1="45.05" x2="141.10" y2="698.39" stroke="#000" stroke-width="1.25" />
<line x1="463.70" y1="45.05" x2="463.70" y2="698.39" stroke="#000" stroke-width="1.25" />
<line x1="786.80" y1="45.05" x2="786.80" y2="698.39" stroke="#000" stroke-width="1.25" />
<path d="M141.10 251.94L143.31 251.94L143.31 251.94L147.73 251.94L147.73 251.94L152.15 251.94L152.15 251.94L156.57 251.94L156.57 251.94L160.99 251.94L160.99 251.94L165.41 251.94L165.41 251.94L169.82 251.94L169.82 251.94L174.24 251.94L174.24 251.94L178.66 251.94L178.66 251.94L183.08 251.94L183.08 251.94L187.50 251.94L187.50 251.94L191.92 251.94L191.92 251.94L196.34 251.94L196.34 251.94L200.76 251.94L200.76 251.94L205.18 251.94L205.18 251.94L209.60 251.94L209.60 251.94L214.02 251.94L214.02 251.94L218.44 251.94L218.44 251.94L222.85 251.94L222.85 251.94L227.27 251.94L227.27 251.94L231.69 251.94L231.69 251.94L236.11 251.94L236.11 251.94L240.53 251.94L240.53 251.94L244.95 251.94L244.95 251.94L249.37 251.94L249.37 251.94L253.79 251.94L253.79 251.94L258.21 251.94L258.21 251.94L262.63 251.94L262.63 251.94L267.05 251.94L267.05 251.94L271.47 251.94L271.47 251.94L275.88 251.94L275.88 251.94L280.30 251.94L280.30 251.94L284.72 251.94L284.72 251.51L289.14 251.51L289.14 251.40L293.56 251.40L293.56 250.96L297.98 250.96L297.98 250.20L302.40 250.20L302.40 249.00L306.82 249.00L306.82 247.15L311.24 247.15L311.24 244.43L315.66 244.43L315.66 239.96L320.08 239.96L320.08 233.76L324.50 233.76L324.50 224.50L328.92 224.50L328.92 214.48L333.33 214.48L333.33 202.40L337.75 202.40L337.75 190.42L342.17 190.42L342.17 176.70L346.59 176.70L346.59 168.53L351.01 168.53L351.01 163.20L355.43 163.20L355.43 159.93L359.85 159.93L359.85 160.26L364.27 160.26L364.27 167.22L368.69 167.22L368.69 175.72L373.11 175.72L373.11 186.50L377.53 186.50L377.53 196.95L381.95 196.95L381.95 209.15L386.36 209.15L386.36 218.19L390.78 218.19L390.78 226.46L395.20 226.46L395.20 234.19L399.62 234.19L399.62 239.96L404.04 239.96L404.04 244.21L408.46 244.21L408.46 246.71L412.88 246.71L412.88 248.67L417.30 248.67L417.30 249.98L421.72 249.98L421.72 250.96L426.14 250.96L426.14 251.40L430.56 251.40L430.56 251.51L434.98 251.51L434.98 251.94L439.39 251.94L439.39 251.94L443.81 251.94L443.81 251.94L448.23 251.94L448.23 251.94L452.65 251.94L452.65 251.94L457.07 251.94L457.07 251.94L461.49 251.94L461.49 251.94L463.70 251.94" fill="none" stroke="#ff0000" stroke-width="1.4" stroke-linejoin="miter"/>
<path d="M141.10 251.94L305.91 251.94L306.11 251.94L306.31 251.94L306.51 251.94L306.71 251.94L306.91 251.94L307.11 251.94L307.31 251.94L307.51 251.94L307.71 251.94L307.91 251.93L308.11 251.93L308.31 251.93L308.51 251.93L308.71 251.92L308.91 251.92L309.11 251.91L309.31 251.90L309.51 251.89L309.71 251.87L309.91 251.85L310.11 251.83L310.31 251.80L310.51 251.76L310.71 251.71L310.91 251.66L311.11 251.59L311.31 251.50L311.51 251.40L311.71 251.27L311.90 251.12L312.10 250.93L312.30 250.72L312.50 250.46L312.70 250.15L312.90 249.79L313.10 249.36L313.30 248.86L313.50 248.28L313.70 247.62L313.90 246.84L314.10 245.96L314.30 244.95L314.50 243.81L314.70 242.51L314.90 241.05L315.10 239.42L315.30 237.60L315.50 235.58L315.70 233.35L315.90 230.91L316.10 228.24L316.30 225.34L316.50 222.21L316.70 218.84L316.90 215.24L317.10 211.41L317.30 207.36L317.50 203.11L317.70 198.67L317.90 194.05L318.09 189.30L318.29 184.42L318.49 179.46L318.69 174.46L318.89 169.44L319.09 164.45L319.29 159.53L319.49 154.73L319.69 150.10L319.89 145.67L320.09 141.50L320.29 137.63L320.49 134.11L320.69 130.97L320.89 128.24L321.09 125.97L321.29 124.17L321.49 122.87L321.69 122.08L321.89 121.82L322.09 122.08L322.29 122.87L322.49 124.17L322.69 125.97L322.89 128.24L323.09 130.97L323.29 134.11L323.49 137.63L323.69 141.50L323.89 145.67L324.09 150.10L324.28 154.73L324.48 159.53L324.68 164.45L324.88 169.44L325.08 174.46L325.28 179.46L325.48 184.42L325.68 189.30L325.88 194.05L326.08 198.67L326.28 203.11L326.48 207.36L326.68 211.41L326.88 215.24L327.08 218.84L327.28 222.21L327.48 225.34L327.68 228.24L327.88 230.91L328.08 233.35L328.28 235.58L328.48 237.60L328.68 239.42L328.88 241.05L329.08 242.51L329.28 243.81L329.48 244.95L329.68 245.96L329.88 246.84L330.08 247.62L330.27 248.28L330.47 248.86L330.67 249.36L330.87 249.79L331.07 250.15L331.27 250.46L331.47 250.72L331.67 250.93L331.87 251.12L332.07 251.27L332.27 251.40L332.47 251.50L332.67 251.59L332.87 251.66L333.07 251.71L333.27 251.76L333.47 251.80L333.67 251.83L333.87 251.85L334.07 251.87L334.27 251.89L334.47 251.90L334.67 251.91L334.87 251.92L335.07 251.92L335.27 251.93L335.47 251.93L335.67 251.93L335.87 251.93L336.07 251.94L336.27 251.94L336.46 251.94L336.66 251.94L336.86 251.94L337.06 251.94L337.26 251.94L337.46 251.94L337.66 251.94L337.86 251.94L463.70 251.94" fill="none" stroke="#00ff00" stroke-width="2.3" stroke-dasharray="0.9 5.37" stroke-linecap="round" stroke-dashoffset="-1"/>
<path d="M357.60 197.50L357.60 241.05M352.25 216.15L357.60 241.05L362.95 216.15" fill="none" stroke="#ff0000" stroke-width="1.25" stroke-linejoin="round"/>
<path d="M322.00 67.08L322.00 110.38" fill="none" stroke="#00ff00" stroke-width="2.1" stroke-dasharray="2.2 4.07"/>
<path d="M316.65 85.78L322.00 110.38" fill="none" stroke="#00ff00" stroke-width="2.1" stroke-dasharray="3.4 2.87"/>
<path d="M327.35 85.78L322.00 110.38" fill="none" stroke="#00ff00" stroke-width="2.1" stroke-dasharray="2.2 2.6 3.6 4.1"/>
<rect x="320.95" y="108.28" width="2.1" height="2.1" fill="#00ff00"/>
<path d="M141.10 469.72L143.31 469.72L143.31 469.72L147.73 469.72L147.73 469.72L152.15 469.72L152.15 469.72L156.57 469.72L156.57 469.72L160.99 469.72L160.99 469.72L165.41 469.72L165.41 469.72L169.82 469.72L169.82 469.72L174.24 469.72L174.24 469.72L178.66 469.72L178.66 469.72L183.08 469.72L183.08 469.72L187.50 469.72L187.50 469.72L191.92 469.72L191.92 469.72L196.34 469.72L196.34 469.72L200.76 469.72L200.76 469.72L205.18 469.72L205.18 469.72L209.60 469.72L209.60 469.72L214.02 469.72L214.02 469.72L218.44 469.72L218.44 469.72L222.85 469.72L222.85 469.61L227.27 469.61L227.27 469.39L231.69 469.39L231.69 469.29L236.11 469.29L236.11 468.96L240.53 468.96L240.53 468.52L244.95 468.52L244.95 467.98L249.37 467.98L249.37 467.11L253.79 467.11L253.79 465.91L258.21 465.91L258.21 464.49L262.63 464.49L262.63 462.64L267.05 462.64L267.05 460.14L271.47 460.14L271.47 457.74L275.88 457.74L275.88 454.69L280.30 454.69L280.30 451.10L284.72 451.10L284.72 447.62L289.14 447.62L289.14 442.50L293.56 442.50L293.56 438.47L297.98 438.47L297.98 434.11L302.40 434.11L302.40 430.85L306.82 430.85L306.82 426.93L311.24 426.93L311.24 423.99L315.66 423.99L315.66 421.81L320.08 421.81L320.08 418.54L324.50 418.54L324.50 417.67L328.92 417.67L328.92 417.45L333.33 417.45L333.33 417.45L337.75 417.45L337.75 417.67L342.17 417.67L342.17 418.65L346.59 418.65L346.59 421.81L351.01 421.81L351.01 425.40L355.43 425.40L355.43 427.58L359.85 427.58L359.85 431.28L364.27 431.28L364.27 436.29L368.69 436.29L368.69 439.23L373.11 439.23L373.11 442.06L377.53 442.06L377.53 445.22L381.95 445.22L381.95 449.03L386.36 449.03L386.36 451.97L390.78 451.97L390.78 454.37L395.20 454.37L395.20 457.31L399.62 457.31L399.62 459.49L404.04 459.49L404.04 460.90L408.46 460.90L408.46 462.32L412.88 462.32L412.88 463.84L417.30 463.84L417.30 464.93L421.72 464.93L421.72 465.91L426.14 465.91L426.14 466.78L430.56 466.78L430.56 467.54L434.98 467.54L434.98 468.09L439.39 468.09L439.39 468.52L443.81 468.52L443.81 468.96L448.23 468.96L448.23 469.18L452.65 469.18L452.65 469.29L457.07 469.29L457.07 469.39L461.49 469.39L461.49 469.39L463.70 469.39" fill="none" stroke="#ff0000" stroke-width="1.4" stroke-linejoin="miter"/>
<path d="M141.10 469.72L194.71 469.71L195.04 469.71L195.36 469.70L195.69 469.70L196.02 469.70L196.34 469.69L196.67 469.69L196.99 469.68L197.32 469.67L197.65 469.66L197.97 469.65L198.30 469.64L198.63 469.62L198.95 469.61L199.28 469.59L199.61 469.56L199.93 469.54L200.26 469.50L200.59 469.47L200.91 469.43L201.24 469.38L201.57 469.32L201.89 469.26L202.22 469.19L202.54 469.10L202.87 469.01L203.20 468.90L203.52 468.78L203.85 468.64L204.18 468.48L204.50 468.31L204.83 468.11L205.16 467.88L205.48 467.63L205.81 467.35L206.14 467.03L206.46 466.68L206.79 466.29L207.11 465.86L207.44 465.37L207.77 464.84L208.09 464.26L208.42 463.61L208.75 462.90L209.07 462.13L209.40 461.28L209.73 460.35L210.05 459.35L210.38 458.26L210.71 457.08L211.03 455.82L211.36 454.45L211.68 452.99L212.01 451.42L212.34 449.75L212.66 447.98L212.99 446.09L213.32 444.11L213.64 442.01L213.97 439.82L214.30 437.52L214.62 435.12L214.95 432.64L215.28 430.07L215.60 427.43L215.93 424.72L216.25 421.96L216.58 419.15L216.91 416.32L217.23 413.49L217.56 410.66L217.89 407.86L218.21 405.11L218.54 402.44L218.87 399.87L219.19 397.43L219.52 395.15L219.85 393.06L220.17 391.19L220.50 389.59L220.82 388.30L221.15 387.39L221.48 386.97L221.80 387.39L222.13 388.37L222.46 389.75L222.78 391.48L223.11 393.49L223.44 395.74L223.76 398.19L224.09 400.81L224.42 403.55L224.74 406.40L225.07 409.32L225.39 412.29L225.72 415.27L226.05 418.25L226.37 421.21L226.70 424.13L227.03 426.99L227.35 429.78L227.68 432.49L228.01 435.10L228.33 437.62L228.66 440.03L228.99 442.33L229.31 444.51L229.64 446.58L229.96 448.52L230.29 450.35L230.62 452.07L230.94 453.67L231.27 455.16L231.60 456.54L231.92 457.82L232.25 459.00L232.58 460.08L232.90 461.07L233.23 461.98L233.56 462.81L233.88 463.56L234.21 464.24L234.53 464.86L234.86 465.42L235.19 465.92L235.51 466.37L235.84 466.77L236.17 467.13L236.49 467.45L236.82 467.73L237.15 467.99L237.47 468.21L237.80 468.41L238.13 468.58L238.45 468.73L238.78 468.87L239.10 468.98L239.43 469.09L239.76 469.18L240.08 469.25L240.41 469.32L240.74 469.38L241.06 469.43L241.39 469.47L241.72 469.51L242.04 469.54L242.37 469.57L242.70 469.59L243.02 469.61L243.35 469.63L243.67 469.64L244.00 469.66L244.33 469.67L244.65 469.68L244.98 469.68L245.31 469.69L245.63 469.70L245.96 469.70L246.29 469.70L246.61 469.71L246.94 469.71L463.70 469.72" fill="none" stroke="#00ff00" stroke-width="2.3" stroke-dasharray="0.9 5.37" stroke-linecap="round" stroke-dashoffset="-1"/>
<path d="M335.90 415.28L335.90 458.83M330.55 433.93L335.90 458.83L341.25 433.93" fill="none" stroke="#ff0000" stroke-width="1.25" stroke-linejoin="round"/>
<path d="M220.40 284.86L220.40 328.16" fill="none" stroke="#00ff00" stroke-width="2.1" stroke-dasharray="2.2 4.07"/>
<path d="M215.05 303.56L220.40 328.16" fill="none" stroke="#00ff00" stroke-width="2.1" stroke-dasharray="3.4 2.87"/>
<path d="M225.75 303.56L220.40 328.16" fill="none" stroke="#00ff00" stroke-width="2.1" stroke-dasharray="2.2 2.6 3.6 4.1"/>
<rect x="219.35" y="326.06" width="2.1" height="2.1" fill="#00ff00"/>
<path d="M141.10 687.50L143.31 687.50L143.31 687.50L147.73 687.50L147.73 687.50L152.15 687.50L152.15 687.50L156.57 687.50L156.57 687.50L160.99 687.50L160.99 687.50L165.41 687.50L165.41 687.50L169.82 687.50L169.82 687.50L174.24 687.50L174.24 687.50L178.66 687.50L178.66 687.50L183.08 687.50L183.08 687.50L187.50 687.50L187.50 687.50L191.92 687.50L191.92 687.50L196.34 687.50L196.34 687.50L200.76 687.50L200.76 687.50L205.18 687.50L205.18 687.50L209.60 687.50L209.60 687.50L214.02 687.50L214.02 687.50L218.44 687.50L218.44 687.50L222.85 687.50L222.85 687.50L227.27 687.50L227.27 687.50L231.69 687.50L231.69 687.50L236.11 687.50L236.11 687.50L240.53 687.50L240.53 687.50L244.95 687.50L244.95 686.96L249.37 686.96L249.37 685.98L253.79 685.98L253.79 684.56L258.21 684.56L258.21 682.06L262.63 682.06L262.63 678.79L267.05 678.79L267.05 673.02L271.47 673.02L271.47 666.27L275.88 666.27L275.88 655.71L280.30 655.71L280.30 645.03L284.72 645.03L284.72 631.53L289.14 631.53L289.14 618.57L293.56 618.57L293.56 606.49L297.98 606.49L297.98 598.76L302.40 598.76L302.40 593.31L306.82 593.31L306.82 591.57L311.24 591.57L311.24 597.78L315.66 597.78L315.66 604.96L320.08 604.96L320.08 616.07L324.50 616.07L324.50 626.74L328.92 626.74L328.92 638.83L333.33 638.83L333.33 649.50L337.75 649.50L337.75 659.95L342.17 659.95L342.17 666.70L346.59 666.70L346.59 673.45L351.01 673.45L351.01 678.25L355.43 678.25L355.43 681.73L359.85 681.73L359.85 684.02L364.27 684.02L364.27 685.54L368.69 685.54L368.69 686.52L373.11 686.52L373.11 687.07L377.53 687.07L377.53 687.50L381.95 687.50L381.95 687.50L386.36 687.50L386.36 687.50L390.78 687.50L390.78 687.50L395.20 687.50L395.20 687.50L399.62 687.50L399.62 687.50L404.04 687.50L404.04 687.50L408.46 687.50L408.46 687.50L412.88 687.50L412.88 687.50L417.30 687.50L417.30 687.50L421.72 687.50L421.72 687.50L426.14 687.50L426.14 687.50L430.56 687.50L430.56 687.50L434.98 687.50L434.98 687.50L439.39 687.50L439.39 687.50L443.81 687.50L443.81 687.50L448.23 687.50L448.23 687.50L452.65 687.50L452.65 687.50L457.07 687.50L457.07 687.50L461.49 687.50L461.49 687.50L463.70 687.50" fill="none" stroke="#ff0000" stroke-width="1.4" stroke-linejoin="miter"/>
<path d="M141.10 687.50L263.29 687.50L263.51 687.50L263.74 687.50L263.97 687.50L264.20 687.50L264.42 687.50L264.65 687.50L264.88 687.50L265.11 687.50L265.34 687.50L265.56 687.49L265.79 687.49L266.02 687.49L266.25 687.49L266.47 687.48L266.70 687.47L266.93 687.47L267.16 687.46L267.39 687.44L267.61 687.43L267.84 687.40L268.07 687.38L268.30 687.34L268.52 687.30L268.75 687.25L268.98 687.18L269.21 687.10L269.44 687.01L269.66 686.89L269.89 686.74L270.12 686.57L270.35 686.36L270.57 686.11L270.80 685.81L271.03 685.45L271.26 685.03L271.49 684.54L271.71 683.97L271.94 683.30L272.17 682.53L272.40 681.65L272.63 680.63L272.85 679.48L273.08 678.18L273.31 676.70L273.54 675.06L273.76 673.22L273.99 671.18L274.22 668.93L274.45 666.47L274.68 663.78L274.90 660.87L275.13 657.72L275.36 654.35L275.59 650.77L275.81 646.97L276.04 642.97L276.27 638.79L276.50 634.45L276.73 629.98L276.95 625.40L277.18 620.75L277.41 616.06L277.64 611.38L277.86 606.74L278.09 602.19L278.32 597.79L278.55 593.56L278.78 589.56L279.00 585.84L279.23 582.44L279.46 579.40L279.69 576.75L279.91 574.54L280.14 572.78L280.37 571.50L280.60 570.72L280.83 570.44L281.05 570.65L281.28 571.29L281.51 572.36L281.74 573.86L281.96 575.75L282.19 578.02L282.42 580.66L282.65 583.62L282.88 586.88L283.10 590.40L283.33 594.15L283.56 598.10L283.79 602.19L284.02 606.41L284.24 610.71L284.47 615.05L284.70 619.41L284.93 623.74L285.15 628.03L285.38 632.23L285.61 636.33L285.84 640.30L286.07 644.13L286.29 647.80L286.52 651.29L286.75 654.60L286.98 657.72L287.20 660.65L287.43 663.38L287.66 665.91L287.89 668.25L288.12 670.40L288.34 672.37L288.57 674.16L288.80 675.79L289.03 677.25L289.25 678.57L289.48 679.74L289.71 680.79L289.94 681.71L290.17 682.53L290.39 683.25L290.62 683.88L290.85 684.43L291.08 684.90L291.30 685.31L291.53 685.66L291.76 685.96L291.99 686.22L292.22 686.44L292.44 686.62L292.67 686.78L292.90 686.91L293.13 687.01L293.35 687.10L293.58 687.18L293.81 687.24L294.04 687.29L294.27 687.33L294.49 687.37L294.72 687.39L294.95 687.42L295.18 687.43L295.41 687.45L295.63 687.46L295.86 687.47L296.09 687.48L296.32 687.48L296.54 687.49L296.77 687.49L297.00 687.49L297.23 687.49L297.46 687.50L297.68 687.50L297.91 687.50L298.14 687.50L298.37 687.50L298.59 687.50L298.82 687.50L299.05 687.50L299.28 687.50L299.51 687.50L299.73 687.50L463.70 687.50" fill="none" stroke="#00ff00" stroke-width="2.3" stroke-dasharray="0.9 5.37" stroke-linecap="round" stroke-dashoffset="-1"/>
<path d="M309.00 633.06L309.00 676.61M303.65 651.71L309.00 676.61L314.35 651.71" fill="none" stroke="#ff0000" stroke-width="1.25" stroke-linejoin="round"/>
<path d="M282.50 502.64L282.50 545.94" fill="none" stroke="#00ff00" stroke-width="2.1" stroke-dasharray="2.2 4.07"/>
<path d="M277.15 521.34L282.50 545.94" fill="none" stroke="#00ff00" stroke-width="2.1" stroke-dasharray="3.4 2.87"/>
<path d="M287.85 521.34L282.50 545.94" fill="none" stroke="#00ff00" stroke-width="2.1" stroke-dasharray="2.2 2.6 3.6 4.1"/>
<rect x="281.45" y="543.84" width="2.1" height="2.1" fill="#00ff00"/>
<path d="M463.70 251.94L467.00 251.94L467.00 251.94L473.59 251.94L473.59 251.94L480.18 251.94L480.18 251.94L486.78 251.94L486.78 251.94L493.37 251.94L493.37 251.94L499.97 251.94L499.97 251.94L506.56 251.94L506.56 251.94L513.15 251.94L513.15 251.94L519.75 251.94L519.75 251.94L526.34 251.94L526.34 251.94L532.94 251.94L532.94 251.94L539.53 251.94L539.53 251.94L546.12 251.94L546.12 251.94L552.72 251.94L552.72 251.94L559.31 251.94L559.31 251.94L565.91 251.94L565.91 251.72L572.50 251.72L572.50 251.51L579.09 251.51L579.09 250.74L585.69 250.74L585.69 248.78L592.28 248.78L592.28 243.99L598.87 243.99L598.87 235.06L605.47 235.06L605.47 219.82L612.06 219.82L612.06 201.31L618.66 201.31L618.66 174.74L625.25 174.74L625.25 150.67L631.84 150.67L631.84 130.20L638.44 130.20L638.44 120.08L645.03 120.08L645.03 119.75L651.63 119.75L651.63 133.80L658.22 133.80L658.22 154.70L664.81 154.70L664.81 177.68L671.41 177.68L671.41 199.35L678.00 199.35L678.00 218.62L684.59 218.62L684.59 233.10L691.19 233.10L691.19 241.81L697.78 241.81L697.78 246.39L704.38 246.39L704.38 249.00L710.97 249.00L710.97 250.74L717.56 250.74L717.56 251.51L724.16 251.51L724.16 251.72L730.75 251.72L730.75 251.94L737.35 251.94L737.35 251.94L743.94 251.94L743.94 251.94L750.53 251.94L750.53 251.94L757.13 251.94L757.13 251.94L763.72 251.94L763.72 251.94L770.32 251.94L770.32 251.94L776.91 251.94L776.91 251.94L783.50 251.94L783.50 251.94L786.80 251.94" fill="none" stroke="#0000ff" stroke-width="1.4" stroke-linejoin="miter"/>
<path d="M463.70 251.94L544.74 251.94L545.01 251.94L545.29 251.94L545.57 251.94L545.85 251.94L546.12 251.94L546.40 251.94L546.68 251.94L546.95 251.94L547.23 251.94L547.51 251.93L547.78 251.93L548.06 251.93L548.34 251.92L548.62 251.92L548.89 251.91L549.17 251.90L549.45 251.89L549.72 251.88L550.00 251.86L550.28 251.84L550.55 251.81L550.83 251.78L551.11 251.73L551.38 251.68L551.66 251.61L551.94 251.53L552.22 251.43L552.49 251.31L552.77 251.17L553.05 250.99L553.32 250.78L553.60 250.53L553.88 250.23L554.15 249.88L554.43 249.46L554.71 248.97L554.99 248.40L555.26 247.73L555.54 246.96L555.82 246.07L556.09 245.05L556.37 243.89L556.65 242.57L556.92 241.08L557.20 239.40L557.48 237.52L557.75 235.43L558.03 233.10L558.31 230.54L558.59 227.72L558.86 224.65L559.14 221.31L559.42 217.70L559.69 213.83L559.97 209.68L560.25 205.27L560.52 200.61L560.80 195.71L561.08 190.60L561.36 185.29L561.63 179.81L561.91 174.20L562.19 168.49L562.46 162.72L562.74 156.94L563.02 151.19L563.29 145.53L563.57 140.01L563.85 134.67L564.12 129.57L564.40 124.77L564.68 120.32L564.96 116.26L565.23 112.64L565.51 109.50L565.79 106.89L566.06 104.81L566.34 103.32L566.62 102.41L566.89 102.11L567.17 102.41L567.45 103.32L567.73 104.81L568.00 106.89L568.28 109.50L568.56 112.64L568.83 116.26L569.11 120.32L569.39 124.77L569.66 129.57L569.94 134.67L570.22 140.01L570.49 145.53L570.77 151.19L571.05 156.94L571.33 162.72L571.60 168.49L571.88 174.20L572.16 179.81L572.43 185.29L572.71 190.60L572.99 195.71L573.26 200.61L573.54 205.27L573.82 209.68L574.10 213.83L574.37 217.70L574.65 221.31L574.93 224.65L575.20 227.72L575.48 230.54L575.76 233.10L576.03 235.43L576.31 237.52L576.59 239.40L576.86 241.08L577.14 242.57L577.42 243.89L577.70 245.05L577.97 246.07L578.25 246.96L578.53 247.73L578.80 248.40L579.08 248.97L579.36 249.46L579.63 249.88L579.91 250.23L580.19 250.53L580.47 250.78L580.74 250.99L581.02 251.17L581.30 251.31L581.57 251.43L581.85 251.53L582.13 251.61L582.40 251.68L582.68 251.73L582.96 251.78L583.23 251.81L583.51 251.84L583.79 251.86L584.07 251.88L584.34 251.89L584.62 251.90L584.90 251.91L585.17 251.92L585.45 251.92L585.73 251.93L586.00 251.93L586.28 251.93L586.56 251.94L586.84 251.94L587.11 251.94L587.39 251.94L587.67 251.94L587.94 251.94L588.22 251.94L588.50 251.94L588.77 251.94L589.05 251.94L786.80 251.94" fill="none" stroke="#ff00ff" stroke-width="2.3" stroke-dasharray="0.9 5.37" stroke-linecap="round" stroke-dashoffset="-1"/>
<path d="M648.00 197.50L648.00 241.05M642.65 216.15L648.00 241.05L653.35 216.15" fill="none" stroke="#0000ff" stroke-width="1.25" stroke-linejoin="round"/>
<path d="M569.20 94.81L569.20 55.94M569.20 94.81L563.85 68.51M569.20 94.81L574.55 68.51" fill="none" stroke="#ff00ff" stroke-width="2.1" stroke-dasharray="2.2 3.94"/>
<path d="M463.70 469.72L467.00 469.72L467.00 469.72L473.59 469.72L473.59 469.72L480.18 469.72L480.18 469.72L486.78 469.72L486.78 469.50L493.37 469.50L493.37 469.50L499.97 469.50L499.97 469.29L506.56 469.29L506.56 469.18L513.15 469.18L513.15 468.52L519.75 468.52L519.75 467.00L526.34 467.00L526.34 464.71L532.94 464.71L532.94 462.21L539.53 462.21L539.53 458.94L546.12 458.94L546.12 453.93L552.72 453.93L552.72 447.73L559.31 447.73L559.31 439.67L565.91 439.67L565.91 431.72L572.50 431.72L572.50 422.68L579.09 422.68L579.09 413.97L585.69 413.97L585.69 406.78L592.28 406.78L592.28 398.51L598.87 398.51L598.87 396.00L605.47 396.00L605.47 394.04L612.06 394.04L612.06 394.48L618.66 394.48L618.66 395.68L625.25 395.68L625.25 401.45L631.84 401.45L631.84 406.24L638.44 406.24L638.44 413.42L645.03 413.42L645.03 421.26L651.63 421.26L651.63 428.45L658.22 428.45L658.22 436.51L664.81 436.51L664.81 443.48L671.41 443.48L671.41 448.71L678.00 448.71L678.00 453.50L684.59 453.50L684.59 457.96L691.19 457.96L691.19 461.23L697.78 461.23L697.78 463.73L704.38 463.73L704.38 465.47L710.97 465.47L710.97 467.00L717.56 467.00L717.56 468.20L724.16 468.20L724.16 468.74L730.75 468.74L730.75 469.18L737.35 469.18L737.35 469.29L743.94 469.29L743.94 469.50L750.53 469.50L750.53 469.72L757.13 469.72L757.13 469.72L763.72 469.72L763.72 469.72L770.32 469.72L770.32 469.72L776.91 469.72L776.91 469.72L783.50 469.72L783.50 469.72L786.80 469.72" fill="none" stroke="#0000ff" stroke-width="1.4" stroke-linejoin="miter"/>
<path d="M463.70 469.72L534.02 469.72L534.51 469.72L534.99 469.72L535.47 469.72L535.96 469.72L536.44 469.72L536.92 469.72L537.40 469.72L537.89 469.72L538.37 469.72L538.85 469.72L539.33 469.72L539.82 469.71L540.30 469.71L540.78 469.71L541.26 469.71L541.75 469.70L542.23 469.70L542.71 469.69L543.19 469.68L543.68 469.67L544.16 469.66L544.64 469.64L545.12 469.62L545.61 469.59L546.09 469.56L546.57 469.52L547.05 469.47L547.54 469.41L548.02 469.33L548.50 469.25L548.98 469.14L549.47 469.01L549.95 468.86L550.43 468.69L550.91 468.48L551.40 468.23L551.88 467.94L552.36 467.61L552.85 467.22L553.33 466.78L553.81 466.27L554.29 465.69L554.78 465.02L555.26 464.28L555.74 463.43L556.22 462.49L556.71 461.44L557.19 460.27L557.67 458.99L558.15 457.58L558.64 456.04L559.12 454.36L559.60 452.55L560.08 450.61L560.57 448.53L561.05 446.32L561.53 443.98L562.01 441.53L562.50 438.96L562.98 436.30L563.46 433.55L563.94 430.74L564.43 427.87L564.91 424.98L565.39 422.08L565.87 419.20L566.36 416.36L566.84 413.59L567.32 410.91L567.81 408.36L568.29 405.95L568.77 403.72L569.25 401.68L569.74 399.87L570.22 398.30L570.70 396.98L571.18 395.94L571.67 395.19L572.15 394.74L572.63 394.59L573.11 394.74L573.60 395.19L574.08 395.94L574.56 396.98L575.04 398.30L575.53 399.87L576.01 401.68L576.49 403.72L576.97 405.95L577.46 408.36L577.94 410.91L578.42 413.59L578.90 416.36L579.39 419.20L579.87 422.08L580.35 424.98L580.83 427.87L581.32 430.74L581.80 433.55L582.28 436.30L582.76 438.96L583.25 441.53L583.73 443.98L584.21 446.32L584.70 448.53L585.18 450.61L585.66 452.55L586.14 454.36L586.63 456.04L587.11 457.58L587.59 458.99L588.07 460.27L588.56 461.44L589.04 462.49L589.52 463.43L590.00 464.28L590.49 465.02L590.97 465.69L591.45 466.27L591.93 466.78L592.42 467.22L592.90 467.61L593.38 467.94L593.86 468.23L594.35 468.48L594.83 468.69L595.31 468.86L595.79 469.01L596.28 469.14L596.76 469.25L597.24 469.33L597.72 469.41L598.21 469.47L598.69 469.52L599.17 469.56L599.66 469.59L600.14 469.62L600.62 469.64L601.10 469.66L601.59 469.67L602.07 469.68L602.55 469.69L603.03 469.70L603.52 469.70L604.00 469.71L604.48 469.71L604.96 469.71L605.45 469.71L605.93 469.72L606.41 469.72L606.89 469.72L607.38 469.72L607.86 469.72L608.34 469.72L608.82 469.72L609.31 469.72L609.79 469.72L610.27 469.72L610.75 469.72L611.24 469.72L786.80 469.72" fill="none" stroke="#ff00ff" stroke-width="2.3" stroke-dasharray="0.9 5.37" stroke-linecap="round" stroke-dashoffset="-1"/>
<path d="M615.40 415.28L615.40 458.83M610.05 433.93L615.40 458.83L620.75 433.93" fill="none" stroke="#0000ff" stroke-width="1.25" stroke-linejoin="round"/>
<path d="M576.00 312.59L576.00 273.72M576.00 312.59L570.65 286.29M576.00 312.59L581.35 286.29" fill="none" stroke="#ff00ff" stroke-width="2.1" stroke-dasharray="2.2 3.94"/>
<path d="M463.70 687.50L467.00 687.50L467.00 687.50L473.59 687.50L473.59 687.50L480.18 687.50L480.18 687.50L486.78 687.50L486.78 687.50L493.37 687.50L493.37 687.50L499.97 687.50L499.97 687.50L506.56 687.50L506.56 687.50L513.15 687.50L513.15 687.50L519.75 687.50L519.75 687.50L526.34 687.50L526.34 687.50L532.94 687.50L532.94 687.50L539.53 687.50L539.53 687.50L546.12 687.50L546.12 687.50L552.72 687.50L552.72 687.50L559.31 687.50L559.31 687.07L565.91 687.07L565.91 686.30L572.50 686.30L572.50 684.34L579.09 684.34L579.09 679.55L585.69 679.55L585.69 671.39L592.28 671.39L592.28 658.10L598.87 658.10L598.87 641.66L605.47 641.66L605.47 622.82L612.06 622.82L612.06 598.97L618.66 598.97L618.66 583.84L625.25 583.84L625.25 570.55L631.84 570.55L631.84 565.76L638.44 565.76L638.44 570.99L645.03 570.99L645.03 585.04L651.63 585.04L651.63 604.31L658.22 604.31L658.22 624.34L664.81 624.34L664.81 641.66L671.41 641.66L671.41 656.90L678.00 656.90L678.00 669.43L684.59 669.43L684.59 677.16L691.19 677.16L691.19 681.95L697.78 681.95L697.78 685.11L704.38 685.11L704.38 686.52L710.97 686.52L710.97 687.07L717.56 687.07L717.56 687.50L724.16 687.50L724.16 687.50L730.75 687.50L730.75 687.50L737.35 687.50L737.35 687.50L743.94 687.50L743.94 687.50L750.53 687.50L750.53 687.50L757.13 687.50L757.13 687.50L763.72 687.50L763.72 687.50L770.32 687.50L770.32 687.50L776.91 687.50L776.91 687.50L783.50 687.50L783.50 687.50L786.80 687.50" fill="none" stroke="#0000ff" stroke-width="1.4" stroke-linejoin="miter"/>
<path d="M463.70 687.50L541.25 687.50L541.53 687.50L541.80 687.50L542.07 687.50L542.35 687.50L542.62 687.50L542.89 687.50L543.16 687.50L543.44 687.50L543.71 687.50L543.98 687.49L544.26 687.49L544.53 687.49L544.80 687.48L545.07 687.48L545.35 687.47L545.62 687.46L545.89 687.45L546.16 687.44L546.44 687.42L546.71 687.40L546.98 687.37L547.26 687.33L547.53 687.29L547.80 687.24L548.07 687.17L548.35 687.09L548.62 686.98L548.89 686.86L549.16 686.71L549.44 686.53L549.71 686.31L549.98 686.06L550.26 685.75L550.53 685.38L550.80 684.95L551.07 684.45L551.35 683.86L551.62 683.17L551.89 682.38L552.17 681.47L552.44 680.42L552.71 679.23L552.98 677.87L553.26 676.34L553.53 674.63L553.80 672.71L554.07 670.57L554.35 668.21L554.62 665.61L554.89 662.76L555.17 659.66L555.44 656.30L555.71 652.68L555.98 648.81L556.26 644.68L556.53 640.31L556.80 635.70L557.08 630.89L557.35 625.89L557.62 620.72L557.89 615.43L558.17 610.04L558.44 604.59L558.71 599.13L558.98 593.70L559.26 588.35L559.53 583.14L559.80 578.11L560.08 573.31L560.35 568.80L560.62 564.63L560.89 560.84L561.17 557.48L561.44 554.59L561.71 552.20L561.98 550.34L562.26 549.03L562.53 548.29L562.80 548.14L563.08 548.54L563.35 549.48L563.62 550.95L563.89 552.94L564.17 555.41L564.44 558.35L564.71 561.72L564.99 565.49L565.26 569.60L565.53 574.02L565.80 578.71L566.08 583.61L566.35 588.67L566.62 593.86L566.89 599.13L567.17 604.42L567.44 609.71L567.71 614.94L567.99 620.09L568.26 625.12L568.53 630.00L568.80 634.70L569.08 639.21L569.35 643.51L569.62 647.58L569.89 651.42L570.17 655.02L570.44 658.37L570.71 661.48L570.99 664.35L571.26 666.98L571.53 669.38L571.80 671.57L572.08 673.55L572.35 675.33L572.62 676.92L572.90 678.34L573.17 679.60L573.44 680.72L573.71 681.70L573.99 682.56L574.26 683.30L574.53 683.95L574.80 684.51L575.08 684.99L575.35 685.41L575.62 685.76L575.90 686.06L576.17 686.31L576.44 686.52L576.71 686.70L576.99 686.84L577.26 686.97L577.53 687.07L577.80 687.15L578.08 687.22L578.35 687.28L578.62 687.32L578.90 687.36L579.17 687.39L579.44 687.41L579.71 687.43L579.99 687.45L580.26 687.46L580.53 687.47L580.81 687.48L581.08 687.48L581.35 687.49L581.62 687.49L581.90 687.49L582.17 687.49L582.44 687.50L582.71 687.50L582.99 687.50L583.26 687.50L583.53 687.50L583.81 687.50L584.08 687.50L584.35 687.50L584.62 687.50L584.90 687.50L786.80 687.50" fill="none" stroke="#ff00ff" stroke-width="2.3" stroke-dasharray="0.9 5.37" stroke-linecap="round" stroke-dashoffset="-1"/>
<path d="M635.40 633.06L635.40 676.61M630.05 651.71L635.40 676.61L640.75 651.71" fill="none" stroke="#0000ff" stroke-width="1.25" stroke-linejoin="round"/>
<path d="M562.70 530.37L562.70 491.50M562.70 530.37L557.35 504.07M562.70 530.37L568.05 504.07" fill="none" stroke="#ff00ff" stroke-width="2.1" stroke-dasharray="2.2 3.94"/>
<circle cx="450.4" cy="719.9" r="1.35" fill="#000"/>
<path d="M449.3 720.4C449.4 717.0 452.4 715.3 456.0 715.3C459.8 715.3 462.6 717.4 462.6 720.6C462.6 725.6 450.6 727.4 448.9 734.5C451.0 731.7 453.6 732.0 456.3 733.6C458.8 735.1 461.8 735.9 462.7 730.3" fill="none" stroke="#000" stroke-width="1.55" stroke-linecap="round" stroke-linejoin="round"/>
<path d="M281.60 764.9H296.90" fill="none" stroke="#000" stroke-width="1.7"/>
<path d="M282.20 764.9L281.75 770.7M296.30 764.9L296.75 770.7" fill="none" stroke="#000" stroke-width="1.25"/>
<path d="M289.25 764.9V785.0" fill="none" stroke="#000" stroke-width="2.1"/>
<path d="M285.55 784.8H292.95" fill="none" stroke="#000" stroke-width="1.2"/>
<path d="M623.30 764.9H638.60" fill="none" stroke="#000" stroke-width="1.7"/>
<path d="M623.90 764.9L623.45 770.7M638.00 764.9L638.45 770.7" fill="none" stroke="#000" stroke-width="1.25"/>
<path d="M630.95 764.9V785.0" fill="none" stroke="#000" stroke-width="2.1"/>
<path d="M627.25 784.8H634.65" fill="none" stroke="#000" stroke-width="1.2"/>
<path d="M301.2 784.4L304.3 781.9V794.3" fill="none" stroke="#000" stroke-width="1.6" stroke-linejoin="round"/>
<path d="M301.3 794.3H307.1" fill="none" stroke="#000" stroke-width="1.2"/>
<path d="M641.7 785.0C641.6 782.6 643.4 781.5 645.6 781.5C648.2 781.5 650.1 782.6 650.1 784.6C650.1 786.6 648.0 787.7 645.2 788.9C643.0 789.9 641.6 791.3 641.5 793.4C642.6 792.2 644.2 791.9 645.8 792.9C647.6 794.0 649.9 794.6 650.5 791.6" fill="none" stroke="#000" stroke-width="1.5" stroke-linecap="round" stroke-linejoin="round"/>
<g class="t">
<g transform="translate(124.73 99.51) scale(1.08 1)"><g clip-path="url(#c1)"><text x="-0.444" y="-0.15" font-size="32" text-anchor="end" letter-spacing="1.6">0.15</text><text x="-0.444" y="0.15" font-size="32" text-anchor="end" letter-spacing="1.6">0.15</text></g></g>
<g transform="translate(124.73 153.95) scale(1.08 1)"><g clip-path="url(#c2)"><text x="-0.444" y="-0.15" font-size="32" text-anchor="end" letter-spacing="1.6">0.1</text><text x="-0.444" y="0.15" font-size="32" text-anchor="end" letter-spacing="1.6">0.1</text></g></g>
<g transform="translate(124.73 208.40) scale(1.08 1)"><g clip-path="url(#c3)"><text x="-0.444" y="-0.15" font-size="32" text-anchor="end" letter-spacing="1.6">0.05</text><text x="-0.444" y="0.15" font-size="32" text-anchor="end" letter-spacing="1.6">0.05</text></g></g>
<g transform="translate(124.73 262.84) scale(1.08 1)"><g clip-path="url(#c4)"><text x="-0.444" y="-0.15" font-size="32" text-anchor="end" letter-spacing="1.6">0</text><text x="-0.444" y="0.15" font-size="32" text-anchor="end" letter-spacing="1.6">0</text></g></g>
<g transform="translate(124.73 317.29) scale(1.08 1)"><g clip-path="url(#c5)"><text x="-0.444" y="-0.15" font-size="32" text-anchor="end" letter-spacing="1.6">0.15</text><text x="-0.444" y="0.15" font-size="32" text-anchor="end" letter-spacing="1.6">0.15</text></g></g>
<g transform="translate(124.73 371.73) scale(1.08 1)"><g clip-path="url(#c6)"><text x="-0.444" y="-0.15" font-size="32" text-anchor="end" letter-spacing="1.6">0.1</text><text x="-0.444" y="0.15" font-size="32" text-anchor="end" letter-spacing="1.6">0.1</text></g></g>
<g transform="translate(124.73 426.18) scale(1.08 1)"><g clip-path="url(#c7)"><text x="-0.444" y="-0.15" font-size="32" text-anchor="end" letter-spacing="1.6">0.05</text><text x="-0.444" y="0.15" font-size="32" text-anchor="end" letter-spacing="1.6">0.05</text></g></g>
<g transform="translate(124.73 480.62) scale(1.08 1)"><g clip-path="url(#c8)"><text x="-0.444" y="-0.15" font-size="32" text-anchor="end" letter-spacing="1.6">0</text><text x="-0.444" y="0.15" font-size="32" text-anchor="end" letter-spacing="1.6">0</text></g></g>
<g transform="translate(124.73 535.07) scale(1.08 1)"><g clip-path="url(#c9)"><text x="-0.444" y="-0.15" font-size="32" text-anchor="end" letter-spacing="1.6">0.15</text><text x="-0.444" y="0.15" font-size="32" text-anchor="end" letter-spacing="1.6">0.15</text></g></g>
<g transform="translate(124.73 589.51) scale(1.08 1)"><g clip-path="url(#c10)"><text x="-0.444" y="-0.15" font-size="32" text-anchor="end" letter-spacing="1.6">0.1</text><text x="-0.444" y="0.15" font-size="32" text-anchor="end" letter-spacing="1.6">0.1</text></g></g>
<g transform="translate(124.73 643.96) scale(1.08 1)"><g clip-path="url(#c11)"><text x="-0.444" y="-0.15" font-size="32" text-anchor="end" letter-spacing="1.6">0.05</text><text x="-0.444" y="0.15" font-size="32" text-anchor="end" letter-spacing="1.6">0.05</text></g></g>
<g transform="translate(124.73 698.40) scale(1.08 1)"><g clip-path="url(#c12)"><text x="-0.444" y="-0.15" font-size="32" text-anchor="end" letter-spacing="1.6">0</text><text x="-0.444" y="0.15" font-size="32" text-anchor="end" letter-spacing="1.6">0</text></g></g>
<g transform="translate(177.32 736.20) scale(1.08 1)"><g clip-path="url(#c13)"><text x="-0.444" y="-0.15" font-size="32" text-anchor="middle" letter-spacing="1.6">0.6</text><text x="-0.444" y="0.15" font-size="32" text-anchor="middle" letter-spacing="1.6">0.6</text></g></g>
<g transform="translate(265.70 736.20) scale(1.08 1)"><g clip-path="url(#c14)"><text x="-0.444" y="-0.15" font-size="32" text-anchor="middle" letter-spacing="1.6">0.8</text><text x="-0.444" y="0.15" font-size="32" text-anchor="middle" letter-spacing="1.6">0.8</text></g></g>
<g transform="translate(354.08 736.20) scale(1.08 1)"><g clip-path="url(#c15)"><text x="-0.444" y="-0.15" font-size="32" text-anchor="middle" letter-spacing="1.6">1</text><text x="-0.444" y="0.15" font-size="32" text-anchor="middle" letter-spacing="1.6">1</text></g></g>
<g transform="translate(420.80 736.20) scale(1.08 1)"><g clip-path="url(#c16)"><text x="-0.444" y="-0.15" font-size="32" text-anchor="start" letter-spacing="-0.9">1.</text><text x="-0.444" y="0.15" font-size="32" text-anchor="start" letter-spacing="-0.9">1.</text></g></g>
<g transform="translate(517.32 736.20) scale(1.08 1)"><g clip-path="url(#c17)"><text x="-0.444" y="-0.15" font-size="32" text-anchor="middle" letter-spacing="1.6">0.7</text><text x="-0.444" y="0.15" font-size="32" text-anchor="middle" letter-spacing="1.6">0.7</text></g></g>
<g transform="translate(583.25 736.20) scale(1.08 1)"><g clip-path="url(#c18)"><text x="-0.444" y="-0.15" font-size="32" text-anchor="middle" letter-spacing="1.6">0.8</text><text x="-0.444" y="0.15" font-size="32" text-anchor="middle" letter-spacing="1.6">0.8</text></g></g>
<g transform="translate(649.19 736.20) scale(1.08 1)"><g clip-path="url(#c19)"><text x="-0.444" y="-0.15" font-size="32" text-anchor="middle" letter-spacing="1.6">0.9</text><text x="-0.444" y="0.15" font-size="32" text-anchor="middle" letter-spacing="1.6">0.9</text></g></g>
<g transform="translate(715.13 736.20) scale(1.08 1)"><g clip-path="url(#c20)"><text x="-0.444" y="-0.15" font-size="32" text-anchor="middle" letter-spacing="1.6">1</text><text x="-0.444" y="0.15" font-size="32" text-anchor="middle" letter-spacing="1.6">1</text></g></g>
<g transform="translate(781.07 736.20) scale(1.08 1)"><g clip-path="url(#c21)"><text x="-0.444" y="-0.15" font-size="32" text-anchor="middle" letter-spacing="1.6">1.1</text><text x="-0.444" y="0.15" font-size="32" text-anchor="middle" letter-spacing="1.6">1.1</text></g></g>
<g transform="translate(687.92 109.90) scale(1.085 1)"><g clip-path="url(#c22)"><text x="-0.443" y="-0.15" font-size="32">a</text><text x="-0.443" y="0.15" font-size="32">a</text></g></g>
<g transform="translate(706.92 109.90) scale(0.950 0.985)"><g clip-path="url(#c23)"><text x="-0.505" y="-0.15" font-size="32">l</text><text x="-0.505" y="0.15" font-size="32">l</text></g></g>
<g transform="translate(717.42 109.90) scale(0.950 0.985)"><g clip-path="url(#c24)"><text x="-0.505" y="-0.15" font-size="32">l</text><text x="-0.505" y="0.15" font-size="32">l</text></g></g>
<g transform="translate(678.80 324.50) scale(1.088 0.985)"><g clip-path="url(#c25)"><text x="-0.441" y="-0.15" font-size="32">h</text><text x="-0.441" y="0.15" font-size="32">h</text></g></g>
<g transform="translate(699.36 324.50) scale(0.875 1)"><g clip-path="url(#c26)"><text x="-0.549" y="-0.15" font-size="32">i</text><text x="-0.549" y="0.15" font-size="32">i</text></g></g>
<g transform="translate(708.81 324.50) scale(0.993 1)"><g clip-path="url(#c27)"><text x="-0.483" y="-0.15" font-size="32">g</text><text x="-0.483" y="0.15" font-size="32">g</text></g></g>
<g transform="translate(727.80 324.50) scale(1.075 0.985)"><g clip-path="url(#c28)"><text x="-0.447" y="-0.15" font-size="32">h</text><text x="-0.447" y="0.15" font-size="32">h</text></g></g>
<g transform="translate(696.24 545.40) scale(0.925 0.945)"><g clip-path="url(#c29)"><text x="-0.519" y="-0.15" font-size="32">l</text><text x="-0.519" y="0.15" font-size="32">l</text></g></g>
<g transform="translate(706.12 545.40) scale(1.079 1)"><g clip-path="url(#c30)"><text x="-0.445" y="-0.15" font-size="32">o</text><text x="-0.445" y="0.15" font-size="32">o</text></g></g>
<g transform="translate(725.30 545.40) scale(0.900 1)"><g clip-path="url(#c31)"><text x="-0.533" y="-0.15" font-size="32">w</text><text x="-0.533" y="0.15" font-size="32">w</text></g></g>
<g transform="translate(40.40 449.85) rotate(-90) scale(0.995 0.97)"><g clip-path="url(#c32)"><text x="-0.482" y="-0.15" font-size="32">f</text><text x="-0.482" y="0.15" font-size="32">f</text></g></g>
<g transform="translate(40.40 436.74) rotate(-90) scale(1.280 1)"><g clip-path="url(#c33)"><text x="-0.375" y="-0.15" font-size="32">r</text><text x="-0.375" y="0.15" font-size="32">r</text></g></g>
<g transform="translate(40.40 420.53) rotate(-90) scale(1.131 1)"><g clip-path="url(#c34)"><text x="-0.424" y="-0.15" font-size="32">a</text><text x="-0.424" y="0.15" font-size="32">a</text></g></g>
<g transform="translate(40.40 400.94) rotate(-90) scale(1.040 1)"><g clip-path="url(#c35)"><text x="-0.462" y="-0.15" font-size="32">c</text><text x="-0.462" y="0.15" font-size="32">c</text></g></g>
<g transform="translate(40.40 383.10) rotate(-90) scale(1.256 1)"><g clip-path="url(#c36)"><text x="-0.382" y="-0.15" font-size="32">t</text><text x="-0.382" y="0.15" font-size="32">t</text></g></g>
<g transform="translate(40.40 369.63) rotate(-90) scale(0.862 1)"><g clip-path="url(#c37)"><text x="-0.557" y="-0.15" font-size="32">i</text><text x="-0.557" y="0.15" font-size="32">i</text></g></g>
<g transform="translate(40.40 359.46) rotate(-90) scale(1.057 1)"><g clip-path="url(#c38)"><text x="-0.454" y="-0.15" font-size="32">o</text><text x="-0.454" y="0.15" font-size="32">o</text></g></g>
<g transform="translate(40.40 340.26) rotate(-90) scale(1.116 1)"><g clip-path="url(#c39)"><text x="-0.430" y="-0.15" font-size="32">n</text><text x="-0.430" y="0.15" font-size="32">n</text></g></g>
</g>
</svg>
</body></html>
